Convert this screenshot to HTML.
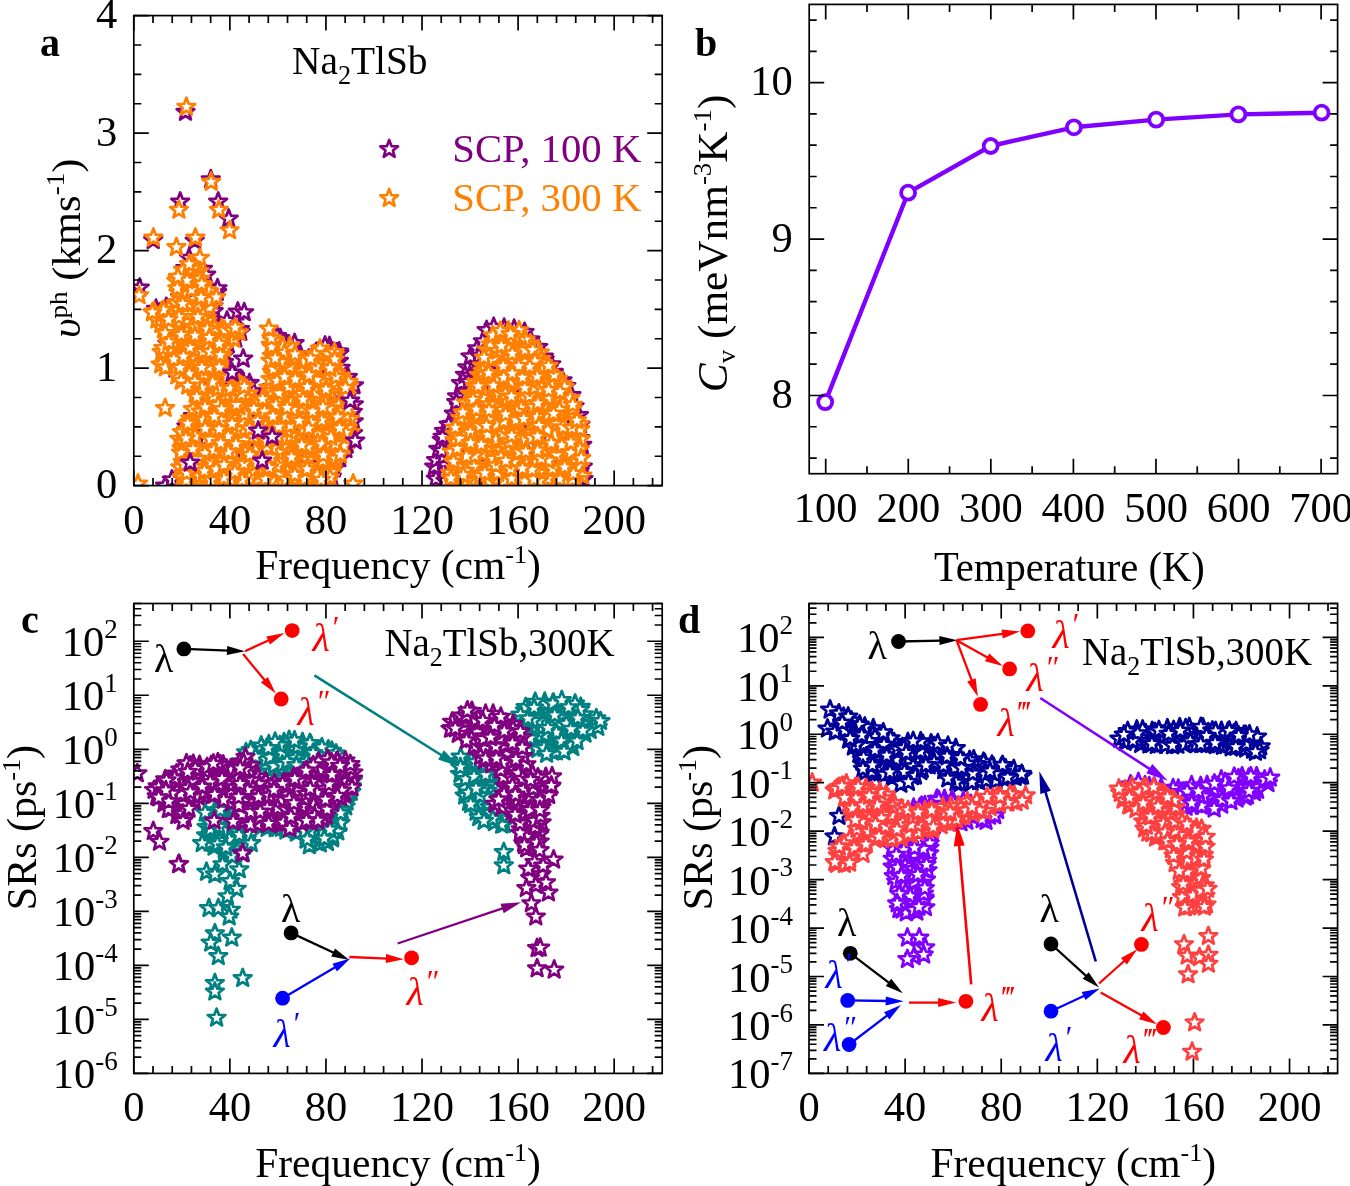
<!DOCTYPE html><html><head><meta charset="utf-8"><style>html,body{margin:0;padding:0;background:#fff;overflow:hidden}svg{display:block;will-change:transform}</style></head><body><svg width="1350" height="1186" viewBox="0 0 1350 1186" font-family='"Liberation Serif", serif'>
<defs><path id="st" d="M0.00,-9.30 L2.30,-3.16 L8.84,-2.87 L3.71,1.21 L5.47,7.52 L0.00,3.91 L-5.47,7.52 L-3.71,1.21 L-8.84,-2.87 L-2.30,-3.16Z"/>
<clipPath id="ca"><rect x="133.8" y="15.6" width="528.4000000000001" height="470.0"/></clipPath>
<clipPath id="cb"><rect x="809.2" y="4.4" width="528.3999999999999" height="469.3"/></clipPath>
<clipPath id="cc"><rect x="133.8" y="603.5" width="528.4000000000001" height="469.9000000000001"/></clipPath>
<clipPath id="cd"><rect x="809.0" y="603.5" width="528.5999999999999" height="469.9000000000001"/></clipPath>
</defs>
<rect width="1350" height="1186" fill="#fff"/>
<g clip-path="url(#ca)" stroke="#800080" stroke-width="2.7" stroke-linejoin="round" fill="#fff"><use href="#st" x="279.3" y="397.7"/><use href="#st" x="225.1" y="354.5"/><use href="#st" x="293.6" y="393.9"/><use href="#st" x="191.9" y="433.9"/><use href="#st" x="305.6" y="380.9"/><use href="#st" x="255.1" y="477.7"/><use href="#st" x="276.3" y="358.5"/><use href="#st" x="283.6" y="388.4"/><use href="#st" x="272.4" y="411.7"/><use href="#st" x="322.1" y="464.3"/><use href="#st" x="198.1" y="292.9"/><use href="#st" x="315.5" y="367.1"/><use href="#st" x="320.3" y="400.0"/><use href="#st" x="203.6" y="464.9"/><use href="#st" x="335.9" y="448.0"/><use href="#st" x="176.0" y="324.6"/><use href="#st" x="307.7" y="434.7"/><use href="#st" x="277.2" y="358.3"/><use href="#st" x="235.8" y="462.5"/><use href="#st" x="165.0" y="355.0"/><use href="#st" x="262.6" y="435.4"/><use href="#st" x="314.5" y="474.0"/><use href="#st" x="163.0" y="319.7"/><use href="#st" x="253.0" y="428.7"/><use href="#st" x="269.7" y="455.3"/><use href="#st" x="221.8" y="426.7"/><use href="#st" x="276.8" y="375.4"/><use href="#st" x="235.3" y="397.8"/><use href="#st" x="338.9" y="361.0"/><use href="#st" x="314.2" y="387.6"/><use href="#st" x="287.3" y="408.1"/><use href="#st" x="292.8" y="379.6"/><use href="#st" x="221.1" y="458.4"/><use href="#st" x="183.7" y="432.4"/><use href="#st" x="239.9" y="329.3"/><use href="#st" x="278.7" y="420.0"/><use href="#st" x="319.7" y="361.4"/><use href="#st" x="165.2" y="318.8"/><use href="#st" x="264.7" y="477.1"/><use href="#st" x="209.3" y="287.0"/><use href="#st" x="156.0" y="308.9"/><use href="#st" x="274.8" y="477.3"/><use href="#st" x="353.7" y="421.5"/><use href="#st" x="170.5" y="336.0"/><use href="#st" x="196.2" y="409.7"/><use href="#st" x="175.0" y="368.8"/><use href="#st" x="230.8" y="381.6"/><use href="#st" x="241.5" y="476.3"/><use href="#st" x="185.6" y="367.8"/><use href="#st" x="165.8" y="357.8"/><use href="#st" x="314.7" y="380.8"/><use href="#st" x="329.5" y="346.3"/><use href="#st" x="227.3" y="401.8"/><use href="#st" x="302.8" y="362.0"/><use href="#st" x="339.1" y="351.6"/><use href="#st" x="252.9" y="410.7"/><use href="#st" x="228.9" y="449.9"/><use href="#st" x="210.1" y="318.3"/><use href="#st" x="233.1" y="412.0"/><use href="#st" x="191.1" y="364.9"/><use href="#st" x="215.9" y="466.9"/><use href="#st" x="229.3" y="331.3"/><use href="#st" x="218.6" y="359.5"/><use href="#st" x="325.1" y="420.2"/><use href="#st" x="193.0" y="416.2"/><use href="#st" x="343.6" y="415.3"/><use href="#st" x="166.3" y="307.1"/><use href="#st" x="179.2" y="316.7"/><use href="#st" x="177.1" y="331.2"/><use href="#st" x="186.5" y="426.5"/><use href="#st" x="186.7" y="355.8"/><use href="#st" x="192.9" y="315.7"/><use href="#st" x="284.8" y="447.3"/><use href="#st" x="312.1" y="475.9"/><use href="#st" x="193.1" y="372.5"/><use href="#st" x="198.0" y="382.7"/><use href="#st" x="291.1" y="356.7"/><use href="#st" x="188.8" y="437.8"/><use href="#st" x="322.3" y="453.4"/><use href="#st" x="204.6" y="428.5"/><use href="#st" x="209.8" y="470.1"/><use href="#st" x="332.5" y="399.2"/><use href="#st" x="208.5" y="429.2"/><use href="#st" x="282.8" y="377.5"/><use href="#st" x="276.7" y="389.2"/><use href="#st" x="344.5" y="434.2"/><use href="#st" x="300.1" y="428.8"/><use href="#st" x="210.1" y="350.7"/><use href="#st" x="297.8" y="439.2"/><use href="#st" x="160.1" y="312.4"/><use href="#st" x="183.6" y="276.4"/><use href="#st" x="229.0" y="374.0"/><use href="#st" x="185.3" y="268.3"/><use href="#st" x="281.6" y="430.6"/><use href="#st" x="315.9" y="461.4"/><use href="#st" x="249.5" y="383.2"/><use href="#st" x="291.8" y="409.1"/><use href="#st" x="204.6" y="276.0"/><use href="#st" x="192.4" y="475.5"/><use href="#st" x="315.3" y="455.6"/><use href="#st" x="285.5" y="458.6"/><use href="#st" x="298.3" y="354.4"/><use href="#st" x="339.9" y="385.5"/><use href="#st" x="311.6" y="392.1"/><use href="#st" x="262.4" y="420.6"/><use href="#st" x="210.0" y="475.4"/><use href="#st" x="210.2" y="287.9"/><use href="#st" x="192.1" y="344.1"/><use href="#st" x="183.8" y="443.0"/><use href="#st" x="197.1" y="387.0"/><use href="#st" x="347.9" y="377.1"/><use href="#st" x="302.8" y="435.2"/><use href="#st" x="242.8" y="417.2"/><use href="#st" x="260.7" y="467.0"/><use href="#st" x="223.9" y="473.8"/><use href="#st" x="189.9" y="375.4"/><use href="#st" x="219.4" y="339.5"/><use href="#st" x="272.4" y="443.5"/><use href="#st" x="195.6" y="273.8"/><use href="#st" x="329.6" y="361.8"/><use href="#st" x="334.5" y="459.5"/><use href="#st" x="280.3" y="338.3"/><use href="#st" x="261.1" y="400.3"/><use href="#st" x="277.0" y="336.1"/><use href="#st" x="340.6" y="368.0"/><use href="#st" x="238.6" y="402.8"/><use href="#st" x="205.6" y="450.3"/><use href="#st" x="193.2" y="448.1"/><use href="#st" x="218.3" y="386.2"/><use href="#st" x="323.7" y="442.3"/><use href="#st" x="230.2" y="431.0"/><use href="#st" x="270.0" y="394.2"/><use href="#st" x="197.9" y="408.8"/><use href="#st" x="234.1" y="327.0"/><use href="#st" x="182.5" y="326.0"/><use href="#st" x="260.2" y="460.1"/><use href="#st" x="195.5" y="426.0"/><use href="#st" x="283.3" y="424.3"/><use href="#st" x="288.5" y="434.1"/><use href="#st" x="247.5" y="408.0"/><use href="#st" x="185.3" y="377.1"/><use href="#st" x="212.3" y="319.6"/><use href="#st" x="167.4" y="343.6"/><use href="#st" x="321.4" y="434.1"/><use href="#st" x="219.5" y="404.0"/><use href="#st" x="300.2" y="469.0"/><use href="#st" x="343.5" y="381.7"/><use href="#st" x="200.2" y="306.5"/><use href="#st" x="279.0" y="472.2"/><use href="#st" x="250.3" y="436.2"/><use href="#st" x="174.1" y="364.1"/><use href="#st" x="234.0" y="384.4"/><use href="#st" x="223.3" y="416.1"/><use href="#st" x="203.6" y="457.5"/><use href="#st" x="300.3" y="354.7"/><use href="#st" x="286.5" y="469.2"/><use href="#st" x="255.8" y="441.1"/><use href="#st" x="192.7" y="383.6"/><use href="#st" x="218.4" y="355.5"/><use href="#st" x="339.4" y="353.6"/><use href="#st" x="200.3" y="470.2"/><use href="#st" x="270.4" y="398.0"/><use href="#st" x="181.6" y="287.9"/><use href="#st" x="187.3" y="315.3"/><use href="#st" x="189.9" y="322.5"/><use href="#st" x="306.2" y="452.9"/><use href="#st" x="330.3" y="376.3"/><use href="#st" x="257.7" y="416.9"/><use href="#st" x="292.8" y="478.0"/><use href="#st" x="227.2" y="455.1"/><use href="#st" x="295.7" y="407.8"/><use href="#st" x="210.8" y="303.8"/><use href="#st" x="203.6" y="401.9"/><use href="#st" x="187.3" y="282.8"/><use href="#st" x="275.1" y="363.7"/><use href="#st" x="322.5" y="356.7"/><use href="#st" x="237.4" y="462.8"/><use href="#st" x="277.0" y="436.9"/><use href="#st" x="205.3" y="330.6"/><use href="#st" x="309.0" y="401.2"/><use href="#st" x="284.9" y="368.8"/><use href="#st" x="234.9" y="375.9"/><use href="#st" x="258.4" y="397.6"/><use href="#st" x="230.8" y="373.6"/><use href="#st" x="353.0" y="433.3"/><use href="#st" x="242.6" y="393.6"/><use href="#st" x="224.1" y="362.3"/><use href="#st" x="323.4" y="405.8"/><use href="#st" x="300.3" y="412.2"/><use href="#st" x="296.5" y="454.8"/><use href="#st" x="259.8" y="429.0"/><use href="#st" x="213.4" y="306.2"/><use href="#st" x="184.6" y="432.2"/><use href="#st" x="185.0" y="301.6"/><use href="#st" x="217.2" y="292.2"/><use href="#st" x="314.6" y="358.4"/><use href="#st" x="251.1" y="471.7"/><use href="#st" x="282.6" y="413.6"/><use href="#st" x="184.1" y="464.5"/><use href="#st" x="197.1" y="460.6"/><use href="#st" x="304.6" y="388.0"/><use href="#st" x="333.5" y="415.2"/><use href="#st" x="185.1" y="458.1"/><use href="#st" x="183.1" y="362.9"/><use href="#st" x="206.6" y="338.3"/><use href="#st" x="217.9" y="461.6"/><use href="#st" x="188.0" y="268.4"/><use href="#st" x="238.3" y="439.6"/><use href="#st" x="333.2" y="461.5"/><use href="#st" x="202.5" y="422.0"/><use href="#st" x="220.9" y="439.3"/><use href="#st" x="303.3" y="443.2"/><use href="#st" x="185.8" y="346.5"/><use href="#st" x="294.6" y="343.3"/><use href="#st" x="237.5" y="433.2"/><use href="#st" x="323.7" y="389.6"/><use href="#st" x="308.2" y="445.9"/><use href="#st" x="214.4" y="360.5"/><use href="#st" x="200.6" y="440.3"/><use href="#st" x="213.5" y="335.1"/><use href="#st" x="347.2" y="444.8"/><use href="#st" x="276.3" y="459.0"/><use href="#st" x="350.2" y="393.5"/><use href="#st" x="205.9" y="360.0"/><use href="#st" x="283.1" y="436.9"/><use href="#st" x="179.0" y="370.4"/><use href="#st" x="225.7" y="423.5"/><use href="#st" x="213.7" y="311.3"/><use href="#st" x="298.1" y="394.8"/><use href="#st" x="235.7" y="460.2"/><use href="#st" x="182.8" y="336.3"/><use href="#st" x="267.0" y="471.1"/><use href="#st" x="325.1" y="449.9"/><use href="#st" x="339.2" y="425.8"/><use href="#st" x="240.7" y="332.1"/><use href="#st" x="167.3" y="363.2"/><use href="#st" x="172.6" y="348.5"/><use href="#st" x="242.4" y="380.5"/><use href="#st" x="303.9" y="475.5"/><use href="#st" x="202.9" y="269.0"/><use href="#st" x="175.2" y="304.8"/><use href="#st" x="178.9" y="307.5"/><use href="#st" x="304.9" y="421.0"/><use href="#st" x="203.2" y="371.9"/><use href="#st" x="318.8" y="391.7"/><use href="#st" x="319.8" y="440.3"/><use href="#st" x="298.5" y="389.9"/><use href="#st" x="299.4" y="424.9"/><use href="#st" x="219.1" y="327.5"/><use href="#st" x="240.1" y="417.4"/><use href="#st" x="182.3" y="278.7"/><use href="#st" x="345.9" y="449.3"/><use href="#st" x="265.1" y="450.3"/><use href="#st" x="337.5" y="373.2"/><use href="#st" x="194.5" y="283.6"/><use href="#st" x="274.6" y="461.3"/><use href="#st" x="251.9" y="392.4"/><use href="#st" x="259.3" y="418.0"/><use href="#st" x="288.9" y="348.4"/><use href="#st" x="216.1" y="418.3"/><use href="#st" x="301.0" y="475.1"/><use href="#st" x="313.9" y="354.1"/><use href="#st" x="284.0" y="343.9"/><use href="#st" x="246.8" y="418.0"/><use href="#st" x="353.8" y="404.5"/><use href="#st" x="228.3" y="388.0"/><use href="#st" x="205.7" y="438.7"/><use href="#st" x="251.5" y="446.8"/><use href="#st" x="225.9" y="395.2"/><use href="#st" x="349.4" y="417.3"/><use href="#st" x="331.7" y="476.7"/><use href="#st" x="220.3" y="478.1"/><use href="#st" x="275.0" y="403.3"/><use href="#st" x="210.7" y="342.3"/><use href="#st" x="354.0" y="385.5"/><use href="#st" x="299.2" y="371.4"/><use href="#st" x="235.8" y="338.8"/><use href="#st" x="332.3" y="437.8"/><use href="#st" x="288.8" y="445.9"/><use href="#st" x="196.0" y="311.6"/><use href="#st" x="194.7" y="337.7"/><use href="#st" x="220.6" y="377.7"/><use href="#st" x="280.7" y="344.8"/><use href="#st" x="275.8" y="345.2"/><use href="#st" x="352.9" y="411.9"/><use href="#st" x="226.1" y="445.5"/><use href="#st" x="251.4" y="469.0"/><use href="#st" x="226.1" y="326.2"/><use href="#st" x="306.6" y="371.0"/><use href="#st" x="178.2" y="302.7"/><use href="#st" x="250.2" y="457.8"/><use href="#st" x="232.9" y="477.3"/><use href="#st" x="204.2" y="392.9"/><use href="#st" x="202.9" y="476.3"/><use href="#st" x="204.8" y="343.3"/><use href="#st" x="344.1" y="391.2"/><use href="#st" x="339.1" y="391.5"/><use href="#st" x="309.0" y="358.8"/><use href="#st" x="217.0" y="373.9"/><use href="#st" x="202.7" y="378.7"/><use href="#st" x="180.2" y="297.3"/><use href="#st" x="292.1" y="465.3"/><use href="#st" x="334.3" y="468.6"/><use href="#st" x="253.5" y="391.6"/><use href="#st" x="185.2" y="447.0"/><use href="#st" x="335.5" y="434.6"/><use href="#st" x="332.6" y="403.3"/><use href="#st" x="343.3" y="404.0"/><use href="#st" x="272.1" y="387.3"/><use href="#st" x="322.2" y="367.7"/><use href="#st" x="270.1" y="432.6"/><use href="#st" x="261.1" y="397.5"/><use href="#st" x="193.6" y="354.8"/><use href="#st" x="206.7" y="391.1"/><use href="#st" x="320.9" y="414.5"/><use href="#st" x="339.8" y="458.5"/><use href="#st" x="212.9" y="415.2"/><use href="#st" x="210.4" y="373.9"/><use href="#st" x="223.6" y="435.8"/><use href="#st" x="193.4" y="264.8"/><use href="#st" x="326.1" y="476.0"/><use href="#st" x="212.8" y="392.7"/><use href="#st" x="213.7" y="450.5"/><use href="#st" x="244.1" y="447.8"/><use href="#st" x="206.2" y="274.7"/><use href="#st" x="283.7" y="477.0"/><use href="#st" x="186.7" y="457.1"/><use href="#st" x="167.9" y="325.9"/><use href="#st" x="194.1" y="464.9"/><use href="#st" x="227.5" y="342.5"/><use href="#st" x="184.2" y="473.6"/><use href="#st" x="347.4" y="418.1"/><use href="#st" x="322.8" y="476.1"/><use href="#st" x="276.1" y="369.3"/><use href="#st" x="325.0" y="345.7"/><use href="#st" x="324.5" y="379.3"/><use href="#st" x="342.3" y="448.1"/><use href="#st" x="308.9" y="416.4"/><use href="#st" x="282.6" y="469.4"/><use href="#st" x="314.3" y="422.2"/><use href="#st" x="192.7" y="298.6"/><use href="#st" x="193.9" y="289.5"/><use href="#st" x="269.3" y="407.6"/><use href="#st" x="198.5" y="397.1"/><use href="#st" x="461.5" y="430.9"/><use href="#st" x="468.7" y="400.0"/><use href="#st" x="540.2" y="418.6"/><use href="#st" x="502.1" y="480.8"/><use href="#st" x="538.2" y="347.1"/><use href="#st" x="535.9" y="480.7"/><use href="#st" x="534.3" y="467.6"/><use href="#st" x="465.7" y="386.7"/><use href="#st" x="497.6" y="444.7"/><use href="#st" x="493.3" y="461.3"/><use href="#st" x="524.7" y="349.2"/><use href="#st" x="466.1" y="406.3"/><use href="#st" x="535.9" y="417.4"/><use href="#st" x="456.1" y="479.7"/><use href="#st" x="450.8" y="439.6"/><use href="#st" x="580.3" y="457.7"/><use href="#st" x="477.1" y="348.5"/><use href="#st" x="466.8" y="416.0"/><use href="#st" x="439.2" y="474.4"/><use href="#st" x="553.4" y="454.3"/><use href="#st" x="550.7" y="393.6"/><use href="#st" x="476.9" y="417.8"/><use href="#st" x="435.9" y="478.9"/><use href="#st" x="527.9" y="359.3"/><use href="#st" x="550.2" y="381.6"/><use href="#st" x="513.7" y="333.6"/><use href="#st" x="474.3" y="430.1"/><use href="#st" x="524.1" y="479.6"/><use href="#st" x="530.5" y="339.6"/><use href="#st" x="508.9" y="415.8"/><use href="#st" x="539.4" y="424.8"/><use href="#st" x="472.3" y="441.7"/><use href="#st" x="485.8" y="390.9"/><use href="#st" x="580.1" y="438.2"/><use href="#st" x="457.9" y="428.6"/><use href="#st" x="456.8" y="462.0"/><use href="#st" x="557.3" y="475.1"/><use href="#st" x="582.8" y="466.7"/><use href="#st" x="535.8" y="391.8"/><use href="#st" x="483.7" y="452.2"/><use href="#st" x="525.3" y="351.8"/><use href="#st" x="449.8" y="471.1"/><use href="#st" x="453.9" y="413.7"/><use href="#st" x="543.8" y="476.6"/><use href="#st" x="457.1" y="396.5"/><use href="#st" x="459.9" y="443.7"/><use href="#st" x="556.6" y="415.6"/><use href="#st" x="477.7" y="465.9"/><use href="#st" x="467.3" y="367.5"/><use href="#st" x="491.9" y="339.3"/><use href="#st" x="524.7" y="383.8"/><use href="#st" x="583.4" y="479.2"/><use href="#st" x="510.0" y="455.5"/><use href="#st" x="452.6" y="478.7"/><use href="#st" x="535.6" y="378.1"/><use href="#st" x="521.9" y="387.7"/><use href="#st" x="434.3" y="466.8"/><use href="#st" x="548.3" y="428.1"/><use href="#st" x="526.2" y="385.2"/><use href="#st" x="515.3" y="479.4"/><use href="#st" x="546.1" y="479.2"/><use href="#st" x="551.3" y="364.4"/><use href="#st" x="553.7" y="372.0"/><use href="#st" x="582.2" y="445.0"/><use href="#st" x="533.3" y="401.8"/><use href="#st" x="493.7" y="416.1"/><use href="#st" x="498.8" y="430.7"/><use href="#st" x="531.1" y="471.5"/><use href="#st" x="546.9" y="453.6"/><use href="#st" x="516.6" y="472.0"/><use href="#st" x="548.8" y="367.8"/><use href="#st" x="518.5" y="439.4"/><use href="#st" x="494.3" y="360.2"/><use href="#st" x="478.4" y="392.5"/><use href="#st" x="573.6" y="446.3"/><use href="#st" x="436.1" y="460.2"/><use href="#st" x="511.0" y="362.2"/><use href="#st" x="504.1" y="327.9"/><use href="#st" x="534.4" y="432.3"/><use href="#st" x="486.6" y="330.2"/><use href="#st" x="461.4" y="478.9"/><use href="#st" x="496.9" y="427.5"/><use href="#st" x="543.8" y="356.7"/><use href="#st" x="549.0" y="401.7"/><use href="#st" x="519.4" y="426.3"/><use href="#st" x="508.6" y="388.3"/><use href="#st" x="518.3" y="398.1"/><use href="#st" x="549.1" y="438.7"/><use href="#st" x="466.3" y="424.3"/><use href="#st" x="555.5" y="467.4"/><use href="#st" x="478.2" y="364.9"/><use href="#st" x="478.5" y="400.3"/><use href="#st" x="446.2" y="434.5"/><use href="#st" x="505.7" y="418.8"/><use href="#st" x="483.6" y="408.2"/><use href="#st" x="485.9" y="406.1"/><use href="#st" x="449.4" y="461.4"/><use href="#st" x="496.6" y="481.1"/><use href="#st" x="526.5" y="418.0"/><use href="#st" x="560.4" y="409.4"/><use href="#st" x="515.6" y="465.6"/><use href="#st" x="459.0" y="406.2"/><use href="#st" x="443.9" y="431.1"/><use href="#st" x="461.0" y="383.2"/><use href="#st" x="571.0" y="417.4"/><use href="#st" x="566.3" y="386.1"/><use href="#st" x="571.4" y="395.2"/><use href="#st" x="481.2" y="479.0"/><use href="#st" x="501.9" y="457.3"/><use href="#st" x="521.5" y="369.1"/><use href="#st" x="460.6" y="463.4"/><use href="#st" x="506.1" y="443.4"/><use href="#st" x="458.7" y="413.1"/><use href="#st" x="514.1" y="328.9"/><use href="#st" x="539.2" y="437.6"/><use href="#st" x="545.5" y="478.8"/><use href="#st" x="550.8" y="392.8"/><use href="#st" x="510.7" y="374.0"/><use href="#st" x="557.5" y="430.2"/><use href="#st" x="465.0" y="375.0"/><use href="#st" x="478.2" y="456.6"/><use href="#st" x="535.1" y="367.1"/><use href="#st" x="488.7" y="347.2"/><use href="#st" x="537.9" y="453.2"/><use href="#st" x="565.9" y="434.6"/><use href="#st" x="445.6" y="465.1"/><use href="#st" x="466.2" y="479.2"/><use href="#st" x="453.4" y="447.9"/><use href="#st" x="441.8" y="440.1"/><use href="#st" x="521.9" y="338.6"/><use href="#st" x="443.7" y="456.6"/><use href="#st" x="548.9" y="378.8"/><use href="#st" x="496.8" y="389.3"/><use href="#st" x="578.9" y="415.2"/><use href="#st" x="480.2" y="432.4"/><use href="#st" x="504.9" y="430.9"/><use href="#st" x="566.1" y="448.0"/><use href="#st" x="563.1" y="444.4"/><use href="#st" x="506.0" y="361.0"/><use href="#st" x="453.4" y="469.0"/><use href="#st" x="524.6" y="332.1"/><use href="#st" x="522.6" y="456.9"/><use href="#st" x="498.3" y="341.0"/><use href="#st" x="529.1" y="465.6"/><use href="#st" x="567.3" y="457.2"/><use href="#st" x="485.4" y="352.7"/><use href="#st" x="445.4" y="480.9"/><use href="#st" x="517.3" y="378.8"/><use href="#st" x="579.0" y="469.6"/><use href="#st" x="482.9" y="341.4"/><use href="#st" x="486.9" y="481.0"/><use href="#st" x="521.4" y="405.1"/><use href="#st" x="573.4" y="478.9"/><use href="#st" x="451.8" y="424.0"/><use href="#st" x="497.3" y="372.1"/><use href="#st" x="558.9" y="479.0"/><use href="#st" x="536.4" y="456.2"/><use href="#st" x="469.7" y="375.7"/><use href="#st" x="568.2" y="418.1"/><use href="#st" x="456.8" y="426.0"/><use href="#st" x="562.6" y="380.4"/><use href="#st" x="471.4" y="479.4"/><use href="#st" x="470.4" y="356.6"/><use href="#st" x="501.5" y="403.8"/><use href="#st" x="567.8" y="480.3"/><use href="#st" x="482.1" y="415.7"/><use href="#st" x="512.9" y="342.7"/><use href="#st" x="438.3" y="449.1"/><use href="#st" x="456.3" y="402.3"/><use href="#st" x="474.0" y="380.1"/><use href="#st" x="535.3" y="361.7"/><use href="#st" x="516.3" y="453.3"/><use href="#st" x="552.7" y="450.3"/><use href="#st" x="487.1" y="463.3"/><use href="#st" x="487.2" y="370.8"/><use href="#st" x="566.7" y="406.0"/><use href="#st" x="494.8" y="469.7"/><use href="#st" x="501.7" y="376.3"/><use href="#st" x="556.4" y="455.2"/><use href="#st" x="496.6" y="355.5"/><use href="#st" x="508.4" y="449.3"/><use href="#st" x="493.7" y="327.0"/><use href="#st" x="510.2" y="414.3"/><use href="#st" x="561.3" y="384.3"/><use href="#st" x="493.8" y="380.2"/><use href="#st" x="503.1" y="469.0"/><use href="#st" x="468.7" y="382.0"/><use href="#st" x="478.9" y="355.9"/><use href="#st" x="489.2" y="438.2"/><use href="#st" x="505.9" y="346.1"/><use href="#st" x="494.6" y="345.5"/><use href="#st" x="534.0" y="408.5"/><use href="#st" x="494.5" y="395.1"/><use href="#st" x="485.8" y="473.5"/><use href="#st" x="579.6" y="471.3"/><use href="#st" x="442.6" y="436.9"/><use href="#st" x="502.3" y="470.8"/><use href="#st" x="487.8" y="364.5"/><use href="#st" x="466.2" y="453.7"/><use href="#st" x="527.9" y="436.8"/><use href="#st" x="467.2" y="446.8"/><use href="#st" x="479.0" y="421.0"/><use href="#st" x="569.1" y="441.8"/><use href="#st" x="490.2" y="423.0"/><use href="#st" x="483.5" y="375.8"/><use href="#st" x="513.1" y="405.6"/><use href="#st" x="441.8" y="450.8"/><use href="#st" x="527.4" y="393.6"/><use href="#st" x="576.6" y="425.5"/><use href="#st" x="514.1" y="435.3"/><use href="#st" x="506.0" y="473.9"/><use href="#st" x="548.1" y="421.2"/><use href="#st" x="505.8" y="358.1"/><use href="#st" x="506.6" y="332.5"/><use href="#st" x="564.9" y="470.9"/><use href="#st" x="526.8" y="451.5"/><use href="#st" x="527.6" y="459.1"/><use href="#st" x="544.7" y="359.4"/><use href="#st" x="580.5" y="424.7"/><use href="#st" x="477.4" y="450.4"/><use href="#st" x="493.2" y="452.6"/><use href="#st" x="515.3" y="356.0"/><use href="#st" x="503.9" y="398.9"/><use href="#st" x="541.4" y="396.5"/><use href="#st" x="482.7" y="394.9"/><use href="#st" x="540.2" y="402.7"/><use href="#st" x="531.0" y="425.6"/><use href="#st" x="477.8" y="438.2"/><use href="#st" x="565.8" y="425.5"/><use href="#st" x="448.7" y="424.7"/><use href="#st" x="576.0" y="431.0"/><use href="#st" x="528.9" y="371.5"/><use href="#st" x="522.9" y="433.3"/><use href="#st" x="574.6" y="406.4"/><use href="#st" x="559.6" y="419.0"/><use href="#st" x="570.1" y="472.0"/><use href="#st" x="577.3" y="456.5"/><use href="#st" x="485.3" y="375.9"/><use href="#st" x="568.1" y="401.7"/><use href="#st" x="542.9" y="469.6"/><use href="#st" x="185.5" y="112.0"/><use href="#st" x="210.8" y="179.4"/><use href="#st" x="180.2" y="201.7"/><use href="#st" x="218.2" y="201.7"/><use href="#st" x="228.7" y="218.8"/><use href="#st" x="153.2" y="240.3"/><use href="#st" x="194.7" y="240.8"/><use href="#st" x="189.1" y="258.0"/><use href="#st" x="193.5" y="280.8"/><use href="#st" x="217.5" y="288.4"/><use href="#st" x="139.7" y="287.8"/><use href="#st" x="237.8" y="311.8"/><use href="#st" x="244.2" y="312.4"/><use href="#st" x="227.0" y="320.7"/><use href="#st" x="207.4" y="315.6"/><use href="#st" x="163.7" y="318.1"/><use href="#st" x="165.2" y="485.8"/><use href="#st" x="171.9" y="479.8"/></g>
<g clip-path="url(#ca)" stroke="#FF8000" stroke-width="2.7" stroke-linejoin="round" fill="#fff"><use href="#st" x="326.3" y="378.3"/><use href="#st" x="201.9" y="466.5"/><use href="#st" x="331.0" y="362.0"/><use href="#st" x="177.3" y="323.4"/><use href="#st" x="228.3" y="428.3"/><use href="#st" x="268.3" y="387.7"/><use href="#st" x="182.0" y="363.3"/><use href="#st" x="233.8" y="339.0"/><use href="#st" x="318.4" y="397.9"/><use href="#st" x="278.3" y="480.7"/><use href="#st" x="273.5" y="405.3"/><use href="#st" x="244.1" y="440.5"/><use href="#st" x="279.3" y="373.9"/><use href="#st" x="201.0" y="422.1"/><use href="#st" x="236.5" y="466.9"/><use href="#st" x="316.2" y="362.6"/><use href="#st" x="233.9" y="406.4"/><use href="#st" x="178.4" y="292.6"/><use href="#st" x="183.7" y="479.2"/><use href="#st" x="293.4" y="451.1"/><use href="#st" x="333.0" y="421.0"/><use href="#st" x="188.1" y="448.3"/><use href="#st" x="325.7" y="478.5"/><use href="#st" x="204.6" y="290.1"/><use href="#st" x="331.5" y="462.8"/><use href="#st" x="300.9" y="367.4"/><use href="#st" x="322.7" y="460.6"/><use href="#st" x="229.4" y="461.2"/><use href="#st" x="205.5" y="480.1"/><use href="#st" x="195.7" y="356.5"/><use href="#st" x="185.0" y="361.2"/><use href="#st" x="270.4" y="403.3"/><use href="#st" x="267.2" y="421.3"/><use href="#st" x="199.3" y="271.2"/><use href="#st" x="319.8" y="381.8"/><use href="#st" x="282.3" y="447.0"/><use href="#st" x="163.5" y="329.4"/><use href="#st" x="336.8" y="432.8"/><use href="#st" x="316.5" y="478.4"/><use href="#st" x="334.6" y="462.6"/><use href="#st" x="191.7" y="454.9"/><use href="#st" x="320.1" y="445.1"/><use href="#st" x="295.5" y="441.1"/><use href="#st" x="160.6" y="364.6"/><use href="#st" x="187.0" y="332.8"/><use href="#st" x="316.5" y="392.9"/><use href="#st" x="334.8" y="461.1"/><use href="#st" x="317.9" y="434.5"/><use href="#st" x="172.6" y="352.0"/><use href="#st" x="273.2" y="374.6"/><use href="#st" x="261.4" y="472.5"/><use href="#st" x="237.4" y="417.0"/><use href="#st" x="218.6" y="437.1"/><use href="#st" x="320.4" y="354.5"/><use href="#st" x="212.0" y="379.2"/><use href="#st" x="309.5" y="443.8"/><use href="#st" x="333.8" y="367.0"/><use href="#st" x="301.0" y="434.1"/><use href="#st" x="299.6" y="417.1"/><use href="#st" x="272.2" y="391.1"/><use href="#st" x="208.6" y="302.7"/><use href="#st" x="184.7" y="294.1"/><use href="#st" x="267.0" y="478.0"/><use href="#st" x="323.5" y="422.8"/><use href="#st" x="160.8" y="324.0"/><use href="#st" x="261.0" y="439.8"/><use href="#st" x="205.8" y="404.6"/><use href="#st" x="272.3" y="340.3"/><use href="#st" x="211.6" y="326.0"/><use href="#st" x="231.7" y="417.7"/><use href="#st" x="170.6" y="317.2"/><use href="#st" x="168.4" y="356.4"/><use href="#st" x="298.0" y="479.7"/><use href="#st" x="240.0" y="473.5"/><use href="#st" x="195.5" y="358.9"/><use href="#st" x="194.2" y="310.7"/><use href="#st" x="329.0" y="413.1"/><use href="#st" x="316.6" y="379.8"/><use href="#st" x="221.7" y="371.6"/><use href="#st" x="274.0" y="479.8"/><use href="#st" x="218.5" y="363.4"/><use href="#st" x="350.8" y="431.9"/><use href="#st" x="232.2" y="479.6"/><use href="#st" x="289.8" y="366.8"/><use href="#st" x="289.5" y="390.1"/><use href="#st" x="238.9" y="332.4"/><use href="#st" x="244.3" y="429.5"/><use href="#st" x="295.8" y="414.1"/><use href="#st" x="277.8" y="382.5"/><use href="#st" x="175.7" y="303.1"/><use href="#st" x="182.7" y="462.1"/><use href="#st" x="222.3" y="400.5"/><use href="#st" x="291.6" y="462.1"/><use href="#st" x="302.3" y="407.6"/><use href="#st" x="168.9" y="308.8"/><use href="#st" x="347.7" y="428.0"/><use href="#st" x="185.9" y="320.2"/><use href="#st" x="232.4" y="451.9"/><use href="#st" x="156.9" y="319.7"/><use href="#st" x="189.8" y="461.5"/><use href="#st" x="198.8" y="341.7"/><use href="#st" x="195.4" y="367.2"/><use href="#st" x="298.6" y="466.7"/><use href="#st" x="311.1" y="451.9"/><use href="#st" x="225.1" y="337.6"/><use href="#st" x="169.1" y="329.0"/><use href="#st" x="321.8" y="420.4"/><use href="#st" x="249.1" y="477.5"/><use href="#st" x="340.9" y="375.7"/><use href="#st" x="237.0" y="445.8"/><use href="#st" x="258.3" y="478.8"/><use href="#st" x="198.6" y="321.9"/><use href="#st" x="193.8" y="374.6"/><use href="#st" x="165.1" y="333.3"/><use href="#st" x="240.9" y="421.7"/><use href="#st" x="226.2" y="469.1"/><use href="#st" x="180.2" y="344.2"/><use href="#st" x="280.7" y="460.1"/><use href="#st" x="196.4" y="478.7"/><use href="#st" x="195.0" y="349.9"/><use href="#st" x="227.2" y="376.7"/><use href="#st" x="334.9" y="386.2"/><use href="#st" x="161.8" y="311.3"/><use href="#st" x="293.3" y="455.4"/><use href="#st" x="188.3" y="313.5"/><use href="#st" x="247.5" y="451.2"/><use href="#st" x="338.7" y="405.2"/><use href="#st" x="341.6" y="442.1"/><use href="#st" x="293.2" y="359.9"/><use href="#st" x="287.5" y="472.1"/><use href="#st" x="334.6" y="354.8"/><use href="#st" x="161.1" y="314.5"/><use href="#st" x="230.4" y="479.5"/><use href="#st" x="317.6" y="443.0"/><use href="#st" x="299.0" y="382.1"/><use href="#st" x="255.6" y="451.0"/><use href="#st" x="199.7" y="475.9"/><use href="#st" x="221.8" y="328.3"/><use href="#st" x="186.2" y="429.9"/><use href="#st" x="213.3" y="327.3"/><use href="#st" x="189.4" y="373.9"/><use href="#st" x="350.0" y="419.0"/><use href="#st" x="179.2" y="438.9"/><use href="#st" x="250.8" y="471.8"/><use href="#st" x="254.9" y="435.8"/><use href="#st" x="206.9" y="365.8"/><use href="#st" x="281.3" y="400.8"/><use href="#st" x="196.9" y="334.0"/><use href="#st" x="311.3" y="478.6"/><use href="#st" x="180.2" y="467.4"/><use href="#st" x="214.8" y="401.2"/><use href="#st" x="195.1" y="394.0"/><use href="#st" x="178.5" y="310.2"/><use href="#st" x="335.8" y="372.7"/><use href="#st" x="278.9" y="393.2"/><use href="#st" x="214.7" y="328.2"/><use href="#st" x="244.5" y="414.3"/><use href="#st" x="301.0" y="362.3"/><use href="#st" x="335.8" y="458.5"/><use href="#st" x="213.2" y="479.7"/><use href="#st" x="271.8" y="371.7"/><use href="#st" x="161.6" y="352.1"/><use href="#st" x="190.3" y="418.6"/><use href="#st" x="265.5" y="416.1"/><use href="#st" x="347.7" y="440.5"/><use href="#st" x="192.9" y="409.3"/><use href="#st" x="194.5" y="273.9"/><use href="#st" x="181.6" y="448.4"/><use href="#st" x="320.0" y="348.8"/><use href="#st" x="345.6" y="392.2"/><use href="#st" x="311.1" y="368.9"/><use href="#st" x="208.6" y="291.7"/><use href="#st" x="233.2" y="404.7"/><use href="#st" x="214.9" y="432.8"/><use href="#st" x="186.7" y="303.8"/><use href="#st" x="348.8" y="385.8"/><use href="#st" x="245.3" y="453.3"/><use href="#st" x="208.8" y="308.1"/><use href="#st" x="277.2" y="440.3"/><use href="#st" x="302.9" y="362.3"/><use href="#st" x="235.7" y="396.5"/><use href="#st" x="203.5" y="285.4"/><use href="#st" x="182.0" y="477.4"/><use href="#st" x="314.5" y="354.2"/><use href="#st" x="254.7" y="401.1"/><use href="#st" x="244.2" y="463.9"/><use href="#st" x="272.6" y="361.8"/><use href="#st" x="323.0" y="363.5"/><use href="#st" x="278.1" y="452.6"/><use href="#st" x="188.1" y="303.6"/><use href="#st" x="200.8" y="411.6"/><use href="#st" x="286.6" y="438.8"/><use href="#st" x="284.5" y="358.6"/><use href="#st" x="272.5" y="448.1"/><use href="#st" x="175.9" y="367.9"/><use href="#st" x="198.6" y="447.5"/><use href="#st" x="280.9" y="474.4"/><use href="#st" x="290.1" y="346.0"/><use href="#st" x="295.4" y="393.4"/><use href="#st" x="181.1" y="452.8"/><use href="#st" x="286.2" y="479.6"/><use href="#st" x="267.3" y="467.0"/><use href="#st" x="214.2" y="365.3"/><use href="#st" x="195.1" y="326.9"/><use href="#st" x="211.4" y="461.9"/><use href="#st" x="260.7" y="455.3"/><use href="#st" x="283.7" y="382.6"/><use href="#st" x="202.9" y="351.7"/><use href="#st" x="177.8" y="278.5"/><use href="#st" x="290.9" y="436.1"/><use href="#st" x="183.1" y="270.0"/><use href="#st" x="348.6" y="382.0"/><use href="#st" x="210.5" y="439.5"/><use href="#st" x="290.9" y="403.3"/><use href="#st" x="322.4" y="475.5"/><use href="#st" x="274.6" y="341.0"/><use href="#st" x="324.7" y="446.6"/><use href="#st" x="328.3" y="354.2"/><use href="#st" x="307.9" y="447.0"/><use href="#st" x="165.4" y="367.5"/><use href="#st" x="309.4" y="419.7"/><use href="#st" x="344.0" y="445.9"/><use href="#st" x="207.2" y="320.9"/><use href="#st" x="303.9" y="428.4"/><use href="#st" x="203.3" y="393.2"/><use href="#st" x="283.0" y="346.3"/><use href="#st" x="198.5" y="305.9"/><use href="#st" x="249.8" y="455.0"/><use href="#st" x="287.0" y="430.4"/><use href="#st" x="179.0" y="317.1"/><use href="#st" x="280.7" y="362.2"/><use href="#st" x="311.1" y="422.8"/><use href="#st" x="277.7" y="436.5"/><use href="#st" x="172.4" y="348.2"/><use href="#st" x="346.7" y="400.1"/><use href="#st" x="236.4" y="429.5"/><use href="#st" x="290.4" y="425.7"/><use href="#st" x="213.4" y="396.2"/><use href="#st" x="334.5" y="352.3"/><use href="#st" x="182.0" y="432.3"/><use href="#st" x="330.3" y="392.3"/><use href="#st" x="225.6" y="394.7"/><use href="#st" x="277.0" y="465.6"/><use href="#st" x="239.0" y="406.7"/><use href="#st" x="284.6" y="352.9"/><use href="#st" x="205.0" y="407.0"/><use href="#st" x="228.2" y="436.4"/><use href="#st" x="342.7" y="410.5"/><use href="#st" x="324.8" y="394.4"/><use href="#st" x="288.7" y="386.9"/><use href="#st" x="196.3" y="468.3"/><use href="#st" x="312.6" y="411.5"/><use href="#st" x="270.8" y="345.0"/><use href="#st" x="330.9" y="472.0"/><use href="#st" x="218.0" y="388.5"/><use href="#st" x="346.0" y="415.1"/><use href="#st" x="188.3" y="284.6"/><use href="#st" x="285.6" y="416.5"/><use href="#st" x="189.8" y="347.8"/><use href="#st" x="201.9" y="387.8"/><use href="#st" x="308.6" y="428.6"/><use href="#st" x="190.6" y="435.1"/><use href="#st" x="253.8" y="437.0"/><use href="#st" x="296.1" y="357.5"/><use href="#st" x="278.8" y="426.6"/><use href="#st" x="316.1" y="366.5"/><use href="#st" x="210.8" y="480.2"/><use href="#st" x="214.1" y="422.8"/><use href="#st" x="325.3" y="403.4"/><use href="#st" x="346.5" y="395.2"/><use href="#st" x="248.3" y="393.6"/><use href="#st" x="221.5" y="420.4"/><use href="#st" x="306.9" y="399.7"/><use href="#st" x="271.8" y="356.0"/><use href="#st" x="218.2" y="456.7"/><use href="#st" x="345.5" y="388.0"/><use href="#st" x="299.2" y="420.7"/><use href="#st" x="334.8" y="359.4"/><use href="#st" x="222.5" y="355.1"/><use href="#st" x="295.3" y="479.0"/><use href="#st" x="163.2" y="348.1"/><use href="#st" x="186.3" y="480.5"/><use href="#st" x="224.5" y="330.2"/><use href="#st" x="265.3" y="402.4"/><use href="#st" x="204.4" y="471.0"/><use href="#st" x="173.8" y="359.4"/><use href="#st" x="223.8" y="478.3"/><use href="#st" x="219.2" y="429.3"/><use href="#st" x="221.3" y="452.0"/><use href="#st" x="204.9" y="453.3"/><use href="#st" x="216.2" y="469.4"/><use href="#st" x="154.2" y="311.5"/><use href="#st" x="295.0" y="354.4"/><use href="#st" x="292.6" y="478.3"/><use href="#st" x="212.6" y="382.4"/><use href="#st" x="186.7" y="473.0"/><use href="#st" x="249.2" y="478.3"/><use href="#st" x="204.0" y="374.2"/><use href="#st" x="176.8" y="375.5"/><use href="#st" x="293.0" y="409.5"/><use href="#st" x="218.1" y="405.1"/><use href="#st" x="195.2" y="436.6"/><use href="#st" x="270.4" y="379.1"/><use href="#st" x="194.8" y="381.8"/><use href="#st" x="335.4" y="444.3"/><use href="#st" x="224.7" y="348.4"/><use href="#st" x="209.3" y="308.0"/><use href="#st" x="183.4" y="443.0"/><use href="#st" x="203.2" y="315.0"/><use href="#st" x="336.1" y="376.8"/><use href="#st" x="163.5" y="310.1"/><use href="#st" x="181.2" y="381.1"/><use href="#st" x="182.6" y="338.3"/><use href="#st" x="244.6" y="398.0"/><use href="#st" x="207.9" y="343.7"/><use href="#st" x="295.3" y="379.4"/><use href="#st" x="195.0" y="335.6"/><use href="#st" x="220.8" y="340.4"/><use href="#st" x="271.7" y="347.1"/><use href="#st" x="173.1" y="341.9"/><use href="#st" x="184.3" y="464.2"/><use href="#st" x="330.4" y="433.0"/><use href="#st" x="209.2" y="291.4"/><use href="#st" x="198.8" y="285.2"/><use href="#st" x="216.6" y="450.9"/><use href="#st" x="176.3" y="281.0"/><use href="#st" x="242.1" y="480.1"/><use href="#st" x="301.8" y="445.2"/><use href="#st" x="192.6" y="268.5"/><use href="#st" x="180.1" y="367.8"/><use href="#st" x="249.6" y="428.6"/><use href="#st" x="168.5" y="319.6"/><use href="#st" x="317.2" y="475.4"/><use href="#st" x="191.6" y="289.9"/><use href="#st" x="203.3" y="420.1"/><use href="#st" x="230.3" y="388.8"/><use href="#st" x="182.8" y="283.4"/><use href="#st" x="307.7" y="459.8"/><use href="#st" x="330.0" y="477.4"/><use href="#st" x="169.0" y="342.2"/><use href="#st" x="264.5" y="411.4"/><use href="#st" x="302.2" y="393.9"/><use href="#st" x="273.3" y="369.3"/><use href="#st" x="238.6" y="383.0"/><use href="#st" x="196.8" y="397.0"/><use href="#st" x="270.4" y="360.9"/><use href="#st" x="270.7" y="457.2"/><use href="#st" x="307.3" y="386.9"/><use href="#st" x="330.0" y="368.3"/><use href="#st" x="221.6" y="409.3"/><use href="#st" x="207.3" y="329.3"/><use href="#st" x="321.9" y="444.1"/><use href="#st" x="304.6" y="479.3"/><use href="#st" x="236.0" y="444.2"/><use href="#st" x="291.5" y="457.4"/><use href="#st" x="266.8" y="446.9"/><use href="#st" x="257.1" y="462.5"/><use href="#st" x="347.9" y="408.7"/><use href="#st" x="328.9" y="408.5"/><use href="#st" x="271.4" y="338.1"/><use href="#st" x="177.3" y="288.4"/><use href="#st" x="189.8" y="422.2"/><use href="#st" x="265.4" y="479.3"/><use href="#st" x="337.7" y="417.3"/><use href="#st" x="330.8" y="437.2"/><use href="#st" x="232.1" y="423.8"/><use href="#st" x="266.8" y="441.1"/><use href="#st" x="277.0" y="380.8"/><use href="#st" x="197.4" y="459.0"/><use href="#st" x="257.2" y="422.5"/><use href="#st" x="236.4" y="404.8"/><use href="#st" x="192.7" y="449.0"/><use href="#st" x="205.7" y="427.3"/><use href="#st" x="208.8" y="367.5"/><use href="#st" x="210.3" y="352.1"/><use href="#st" x="187.0" y="280.6"/><use href="#st" x="213.9" y="450.3"/><use href="#st" x="200.2" y="278.9"/><use href="#st" x="345.7" y="432.8"/><use href="#st" x="321.2" y="479.9"/><use href="#st" x="185.9" y="438.4"/><use href="#st" x="228.2" y="452.0"/><use href="#st" x="182.7" y="303.9"/><use href="#st" x="303.1" y="399.6"/><use href="#st" x="224.0" y="465.0"/><use href="#st" x="214.4" y="416.6"/><use href="#st" x="205.2" y="428.8"/><use href="#st" x="181.2" y="334.8"/><use href="#st" x="323.5" y="455.2"/><use href="#st" x="294.8" y="474.7"/><use href="#st" x="276.1" y="405.1"/><use href="#st" x="183.5" y="356.5"/><use href="#st" x="197.9" y="317.1"/><use href="#st" x="323.0" y="407.2"/><use href="#st" x="241.1" y="385.3"/><use href="#st" x="201.8" y="367.7"/><use href="#st" x="269.2" y="467.8"/><use href="#st" x="211.0" y="300.3"/><use href="#st" x="287.1" y="407.8"/><use href="#st" x="219.3" y="367.4"/><use href="#st" x="201.1" y="297.7"/><use href="#st" x="220.3" y="355.1"/><use href="#st" x="307.8" y="466.3"/><use href="#st" x="307.1" y="469.2"/><use href="#st" x="275.2" y="358.4"/><use href="#st" x="310.6" y="358.6"/><use href="#st" x="241.4" y="394.3"/><use href="#st" x="325.9" y="389.5"/><use href="#st" x="235.0" y="472.3"/><use href="#st" x="244.3" y="386.8"/><use href="#st" x="187.7" y="385.8"/><use href="#st" x="232.0" y="330.4"/><use href="#st" x="257.6" y="420.9"/><use href="#st" x="340.4" y="454.6"/><use href="#st" x="339.5" y="428.4"/><use href="#st" x="262.6" y="399.0"/><use href="#st" x="261.7" y="430.0"/><use href="#st" x="219.1" y="343.8"/><use href="#st" x="209.4" y="337.8"/><use href="#st" x="187.7" y="423.6"/><use href="#st" x="272.9" y="416.5"/><use href="#st" x="253.8" y="408.8"/><use href="#st" x="309.1" y="375.3"/><use href="#st" x="220.7" y="443.3"/><use href="#st" x="284.5" y="377.0"/><use href="#st" x="496.8" y="402.2"/><use href="#st" x="548.9" y="452.4"/><use href="#st" x="548.8" y="480.7"/><use href="#st" x="487.8" y="465.1"/><use href="#st" x="538.8" y="472.8"/><use href="#st" x="525.8" y="475.8"/><use href="#st" x="556.7" y="475.0"/><use href="#st" x="573.8" y="458.3"/><use href="#st" x="487.3" y="376.2"/><use href="#st" x="492.8" y="345.0"/><use href="#st" x="498.9" y="388.3"/><use href="#st" x="565.8" y="412.4"/><use href="#st" x="542.8" y="449.3"/><use href="#st" x="530.4" y="343.5"/><use href="#st" x="489.4" y="478.6"/><use href="#st" x="455.6" y="479.2"/><use href="#st" x="533.9" y="378.4"/><use href="#st" x="539.8" y="352.6"/><use href="#st" x="566.1" y="464.8"/><use href="#st" x="478.0" y="466.1"/><use href="#st" x="569.9" y="413.5"/><use href="#st" x="529.1" y="432.8"/><use href="#st" x="551.1" y="377.8"/><use href="#st" x="498.9" y="394.2"/><use href="#st" x="480.0" y="375.1"/><use href="#st" x="532.2" y="433.1"/><use href="#st" x="525.0" y="467.2"/><use href="#st" x="555.8" y="449.4"/><use href="#st" x="477.3" y="471.4"/><use href="#st" x="521.7" y="396.5"/><use href="#st" x="499.5" y="337.9"/><use href="#st" x="559.5" y="436.8"/><use href="#st" x="474.9" y="480.3"/><use href="#st" x="554.0" y="380.3"/><use href="#st" x="556.6" y="455.1"/><use href="#st" x="575.3" y="459.7"/><use href="#st" x="489.3" y="450.9"/><use href="#st" x="521.1" y="407.9"/><use href="#st" x="509.6" y="459.4"/><use href="#st" x="567.5" y="450.8"/><use href="#st" x="464.4" y="443.8"/><use href="#st" x="557.3" y="479.1"/><use href="#st" x="565.5" y="480.9"/><use href="#st" x="516.9" y="412.0"/><use href="#st" x="488.2" y="420.0"/><use href="#st" x="528.6" y="459.0"/><use href="#st" x="559.6" y="479.1"/><use href="#st" x="530.1" y="403.6"/><use href="#st" x="541.2" y="359.0"/><use href="#st" x="534.0" y="422.4"/><use href="#st" x="518.3" y="443.9"/><use href="#st" x="493.4" y="406.6"/><use href="#st" x="579.9" y="424.1"/><use href="#st" x="551.9" y="422.9"/><use href="#st" x="510.0" y="358.3"/><use href="#st" x="479.1" y="375.1"/><use href="#st" x="508.5" y="330.7"/><use href="#st" x="507.9" y="438.7"/><use href="#st" x="454.5" y="440.3"/><use href="#st" x="539.2" y="371.1"/><use href="#st" x="473.7" y="466.6"/><use href="#st" x="455.7" y="468.7"/><use href="#st" x="557.9" y="379.0"/><use href="#st" x="529.3" y="396.1"/><use href="#st" x="530.3" y="480.1"/><use href="#st" x="547.6" y="478.7"/><use href="#st" x="554.6" y="435.3"/><use href="#st" x="482.2" y="365.7"/><use href="#st" x="502.5" y="409.8"/><use href="#st" x="482.7" y="371.3"/><use href="#st" x="515.1" y="350.6"/><use href="#st" x="550.8" y="382.5"/><use href="#st" x="481.2" y="433.9"/><use href="#st" x="465.9" y="402.6"/><use href="#st" x="542.2" y="394.1"/><use href="#st" x="525.4" y="362.5"/><use href="#st" x="492.7" y="353.1"/><use href="#st" x="493.2" y="458.9"/><use href="#st" x="534.8" y="387.8"/><use href="#st" x="461.8" y="463.8"/><use href="#st" x="487.2" y="441.5"/><use href="#st" x="554.3" y="375.2"/><use href="#st" x="581.0" y="439.1"/><use href="#st" x="524.9" y="481.3"/><use href="#st" x="482.1" y="453.6"/><use href="#st" x="562.4" y="384.1"/><use href="#st" x="451.7" y="451.8"/><use href="#st" x="460.6" y="426.2"/><use href="#st" x="509.2" y="348.0"/><use href="#st" x="512.3" y="353.6"/><use href="#st" x="579.9" y="466.2"/><use href="#st" x="573.0" y="408.6"/><use href="#st" x="551.1" y="467.0"/><use href="#st" x="492.8" y="359.6"/><use href="#st" x="474.9" y="455.6"/><use href="#st" x="582.3" y="475.7"/><use href="#st" x="473.3" y="415.0"/><use href="#st" x="510.7" y="381.9"/><use href="#st" x="493.5" y="479.9"/><use href="#st" x="467.2" y="480.2"/><use href="#st" x="521.9" y="440.3"/><use href="#st" x="515.7" y="424.2"/><use href="#st" x="484.8" y="395.3"/><use href="#st" x="564.6" y="387.0"/><use href="#st" x="501.4" y="450.3"/><use href="#st" x="520.5" y="382.9"/><use href="#st" x="505.5" y="475.1"/><use href="#st" x="482.4" y="397.7"/><use href="#st" x="507.0" y="399.3"/><use href="#st" x="493.5" y="341.4"/><use href="#st" x="536.3" y="462.2"/><use href="#st" x="525.4" y="339.6"/><use href="#st" x="539.2" y="480.9"/><use href="#st" x="561.9" y="445.1"/><use href="#st" x="454.7" y="433.7"/><use href="#st" x="498.3" y="478.5"/><use href="#st" x="486.7" y="349.7"/><use href="#st" x="570.3" y="398.2"/><use href="#st" x="519.1" y="330.4"/><use href="#st" x="543.2" y="363.2"/><use href="#st" x="552.5" y="468.6"/><use href="#st" x="554.1" y="400.9"/><use href="#st" x="460.0" y="458.3"/><use href="#st" x="548.1" y="398.2"/><use href="#st" x="575.4" y="479.1"/><use href="#st" x="490.7" y="344.4"/><use href="#st" x="495.8" y="440.1"/><use href="#st" x="489.6" y="404.5"/><use href="#st" x="540.9" y="367.1"/><use href="#st" x="451.3" y="473.9"/><use href="#st" x="548.5" y="366.0"/><use href="#st" x="501.7" y="365.0"/><use href="#st" x="522.8" y="351.5"/><use href="#st" x="563.0" y="404.5"/><use href="#st" x="474.3" y="443.9"/><use href="#st" x="503.4" y="433.8"/><use href="#st" x="467.4" y="419.9"/><use href="#st" x="546.4" y="409.1"/><use href="#st" x="570.9" y="452.8"/><use href="#st" x="504.2" y="480.9"/><use href="#st" x="572.2" y="479.7"/><use href="#st" x="453.4" y="461.7"/><use href="#st" x="497.7" y="350.9"/><use href="#st" x="509.1" y="373.8"/><use href="#st" x="533.5" y="407.0"/><use href="#st" x="516.4" y="434.9"/><use href="#st" x="514.7" y="337.0"/><use href="#st" x="524.8" y="388.1"/><use href="#st" x="576.0" y="435.9"/><use href="#st" x="500.2" y="468.3"/><use href="#st" x="513.6" y="397.1"/><use href="#st" x="511.7" y="478.7"/><use href="#st" x="525.1" y="350.1"/><use href="#st" x="487.9" y="481.1"/><use href="#st" x="579.9" y="449.4"/><use href="#st" x="497.7" y="473.2"/><use href="#st" x="469.2" y="428.0"/><use href="#st" x="470.0" y="393.7"/><use href="#st" x="522.7" y="377.5"/><use href="#st" x="466.5" y="456.5"/><use href="#st" x="572.5" y="430.1"/><use href="#st" x="506.8" y="446.8"/><use href="#st" x="457.2" y="448.7"/><use href="#st" x="450.4" y="472.9"/><use href="#st" x="476.2" y="382.1"/><use href="#st" x="548.1" y="414.6"/><use href="#st" x="581.2" y="458.3"/><use href="#st" x="537.0" y="376.5"/><use href="#st" x="474.9" y="396.0"/><use href="#st" x="466.3" y="412.2"/><use href="#st" x="547.8" y="430.5"/><use href="#st" x="536.9" y="416.9"/><use href="#st" x="484.1" y="357.7"/><use href="#st" x="509.2" y="338.0"/><use href="#st" x="480.1" y="443.0"/><use href="#st" x="480.6" y="476.0"/><use href="#st" x="495.6" y="465.5"/><use href="#st" x="573.4" y="473.7"/><use href="#st" x="539.0" y="425.8"/><use href="#st" x="580.3" y="429.3"/><use href="#st" x="557.0" y="423.7"/><use href="#st" x="475.1" y="386.1"/><use href="#st" x="531.7" y="437.9"/><use href="#st" x="560.1" y="392.0"/><use href="#st" x="563.2" y="428.4"/><use href="#st" x="541.7" y="388.4"/><use href="#st" x="500.9" y="457.6"/><use href="#st" x="473.0" y="399.7"/><use href="#st" x="548.4" y="460.6"/><use href="#st" x="513.7" y="461.9"/><use href="#st" x="541.3" y="458.7"/><use href="#st" x="537.5" y="436.4"/><use href="#st" x="532.8" y="350.1"/><use href="#st" x="570.8" y="442.6"/><use href="#st" x="478.1" y="414.6"/><use href="#st" x="498.1" y="379.8"/><use href="#st" x="476.2" y="409.5"/><use href="#st" x="563.1" y="427.4"/><use href="#st" x="493.5" y="385.5"/><use href="#st" x="519.2" y="452.2"/><use href="#st" x="537.5" y="450.6"/><use href="#st" x="548.5" y="390.2"/><use href="#st" x="559.2" y="412.7"/><use href="#st" x="484.8" y="473.1"/><use href="#st" x="466.2" y="434.7"/><use href="#st" x="459.9" y="438.6"/><use href="#st" x="465.0" y="470.9"/><use href="#st" x="534.9" y="361.2"/><use href="#st" x="509.5" y="441.6"/><use href="#st" x="460.3" y="417.9"/><use href="#st" x="502.6" y="418.8"/><use href="#st" x="450.9" y="478.4"/><use href="#st" x="529.7" y="366.8"/><use href="#st" x="510.6" y="469.0"/><use href="#st" x="496.7" y="424.8"/><use href="#st" x="533.8" y="479.4"/><use href="#st" x="539.2" y="404.8"/><use href="#st" x="505.8" y="460.9"/><use href="#st" x="503.9" y="421.5"/><use href="#st" x="559.5" y="409.7"/><use href="#st" x="518.4" y="421.6"/><use href="#st" x="455.3" y="427.7"/><use href="#st" x="515.8" y="420.2"/><use href="#st" x="531.9" y="469.8"/><use href="#st" x="470.3" y="432.6"/><use href="#st" x="511.8" y="435.7"/><use href="#st" x="572.8" y="404.9"/><use href="#st" x="503.7" y="377.8"/><use href="#st" x="518.8" y="366.1"/><use href="#st" x="489.1" y="410.4"/><use href="#st" x="492.8" y="335.4"/><use href="#st" x="501.3" y="346.1"/><use href="#st" x="564.6" y="467.3"/><use href="#st" x="505.4" y="394.0"/><use href="#st" x="551.2" y="443.2"/><use href="#st" x="480.0" y="426.1"/><use href="#st" x="487.9" y="434.8"/><use href="#st" x="488.5" y="373.2"/><use href="#st" x="478.3" y="386.3"/><use href="#st" x="486.4" y="425.9"/><use href="#st" x="503.1" y="366.3"/><use href="#st" x="522.5" y="468.6"/><use href="#st" x="481.2" y="444.8"/><use href="#st" x="572.0" y="428.1"/><use href="#st" x="462.7" y="412.4"/><use href="#st" x="500.4" y="331.0"/><use href="#st" x="523.7" y="418.9"/><use href="#st" x="470.6" y="443.1"/><use href="#st" x="511.4" y="396.5"/><use href="#st" x="525.7" y="451.6"/><use href="#st" x="576.9" y="420.5"/><use href="#st" x="463.4" y="475.2"/><use href="#st" x="512.2" y="373.5"/><use href="#st" x="553.6" y="413.8"/><use href="#st" x="505.6" y="414.4"/><use href="#st" x="510.6" y="334.3"/><use href="#st" x="537.9" y="403.4"/><use href="#st" x="186.4" y="106.9"/><use href="#st" x="211.1" y="182.0"/><use href="#st" x="178.9" y="209.9"/><use href="#st" x="218.8" y="209.9"/><use href="#st" x="229.6" y="230.4"/><use href="#st" x="153.4" y="237.8"/><use href="#st" x="195.4" y="237.8"/><use href="#st" x="176.4" y="247.3"/><use href="#st" x="199.8" y="258.0"/><use href="#st" x="189.1" y="264.3"/><use href="#st" x="178.0" y="277.0"/><use href="#st" x="201.7" y="284.0"/><use href="#st" x="216.3" y="297.3"/><use href="#st" x="139.1" y="295.4"/><use href="#st" x="152.4" y="312.4"/><use href="#st" x="268.8" y="328.8"/><use href="#st" x="235.2" y="327.6"/><use href="#st" x="138.0" y="483.8"/><use href="#st" x="353.2" y="483.8"/><use href="#st" x="165.2" y="408.2"/></g>
<g clip-path="url(#ca)" stroke="#800080" stroke-width="2.7" stroke-linejoin="round" fill="#fff"><use href="#st" x="258.2" y="430.8"/><use href="#st" x="272.2" y="436.8"/><use href="#st" x="190.2" y="462.8"/><use href="#st" x="262.2" y="460.8"/><use href="#st" x="350.2" y="400.8"/><use href="#st" x="355.2" y="440.8"/><use href="#st" x="232.2" y="372.8"/><use href="#st" x="243.2" y="358.8"/></g>
<g clip-path="url(#ca)" stroke="#800080" stroke-width="2.7" stroke-linejoin="round" fill="#fff"><use href="#st" x="389.2" y="149.3"/></g>
<g clip-path="url(#ca)" stroke="#FF8000" stroke-width="2.7" stroke-linejoin="round" fill="#fff"><use href="#st" x="389.2" y="198.3"/></g>
<polyline points="825.2,402.1 908.1,192.7 990.7,146.0 1073.9,127.3 1156.2,119.6 1238.4,114.4 1321.6,112.7" fill="none" stroke="#8000FF" stroke-width="4.4" stroke-linejoin="round"/>
<circle cx="825.2" cy="402.1" r="7" fill="#fff" stroke="#8000FF" stroke-width="3.8"/>
<circle cx="908.1" cy="192.7" r="7" fill="#fff" stroke="#8000FF" stroke-width="3.8"/>
<circle cx="990.7" cy="146.0" r="7" fill="#fff" stroke="#8000FF" stroke-width="3.8"/>
<circle cx="1073.9" cy="127.3" r="7" fill="#fff" stroke="#8000FF" stroke-width="3.8"/>
<circle cx="1156.2" cy="119.6" r="7" fill="#fff" stroke="#8000FF" stroke-width="3.8"/>
<circle cx="1238.4" cy="114.4" r="7" fill="#fff" stroke="#8000FF" stroke-width="3.8"/>
<circle cx="1321.6" cy="112.7" r="7" fill="#fff" stroke="#8000FF" stroke-width="3.8"/>
<g clip-path="url(#cc)" stroke="#008080" stroke-width="2.7" stroke-linejoin="round" fill="#fff"><use href="#st" x="213.7" y="815.6"/><use href="#st" x="320.3" y="843.6"/><use href="#st" x="309.6" y="788.4"/><use href="#st" x="349.4" y="789.5"/><use href="#st" x="267.5" y="784.8"/><use href="#st" x="273.9" y="810.2"/><use href="#st" x="237.1" y="782.8"/><use href="#st" x="327.8" y="808.6"/><use href="#st" x="261.6" y="747.6"/><use href="#st" x="331.9" y="751.0"/><use href="#st" x="236.0" y="853.1"/><use href="#st" x="302.5" y="742.2"/><use href="#st" x="270.0" y="771.7"/><use href="#st" x="351.6" y="786.1"/><use href="#st" x="320.3" y="752.0"/><use href="#st" x="258.3" y="826.1"/><use href="#st" x="231.5" y="783.5"/><use href="#st" x="337.7" y="771.6"/><use href="#st" x="290.7" y="785.0"/><use href="#st" x="254.9" y="818.7"/><use href="#st" x="327.3" y="751.7"/><use href="#st" x="233.8" y="776.7"/><use href="#st" x="281.3" y="828.1"/><use href="#st" x="302.0" y="785.0"/><use href="#st" x="347.7" y="768.5"/><use href="#st" x="297.3" y="825.1"/><use href="#st" x="337.2" y="822.1"/><use href="#st" x="340.5" y="823.1"/><use href="#st" x="320.3" y="837.5"/><use href="#st" x="331.7" y="782.5"/><use href="#st" x="273.0" y="758.2"/><use href="#st" x="323.7" y="798.3"/><use href="#st" x="234.3" y="813.4"/><use href="#st" x="233.0" y="836.5"/><use href="#st" x="328.3" y="749.6"/><use href="#st" x="249.0" y="797.3"/><use href="#st" x="263.4" y="778.2"/><use href="#st" x="321.9" y="747.4"/><use href="#st" x="256.3" y="782.0"/><use href="#st" x="257.8" y="823.7"/><use href="#st" x="224.6" y="791.9"/><use href="#st" x="320.7" y="782.0"/><use href="#st" x="345.4" y="763.8"/><use href="#st" x="248.3" y="783.2"/><use href="#st" x="288.5" y="814.7"/><use href="#st" x="298.2" y="793.0"/><use href="#st" x="235.0" y="769.4"/><use href="#st" x="245.9" y="834.3"/><use href="#st" x="278.1" y="772.3"/><use href="#st" x="225.4" y="788.5"/><use href="#st" x="282.2" y="790.6"/><use href="#st" x="306.3" y="826.8"/><use href="#st" x="292.8" y="746.6"/><use href="#st" x="269.5" y="780.7"/><use href="#st" x="332.9" y="799.7"/><use href="#st" x="258.1" y="781.7"/><use href="#st" x="268.8" y="744.4"/><use href="#st" x="333.5" y="811.4"/><use href="#st" x="310.6" y="831.2"/><use href="#st" x="269.1" y="794.1"/><use href="#st" x="266.0" y="759.4"/><use href="#st" x="352.8" y="780.8"/><use href="#st" x="248.4" y="809.5"/><use href="#st" x="337.8" y="831.7"/><use href="#st" x="214.1" y="846.9"/><use href="#st" x="302.5" y="758.0"/><use href="#st" x="322.7" y="831.3"/><use href="#st" x="234.8" y="832.4"/><use href="#st" x="237.7" y="849.5"/><use href="#st" x="298.7" y="799.7"/><use href="#st" x="235.0" y="780.7"/><use href="#st" x="270.2" y="757.5"/><use href="#st" x="293.0" y="770.1"/><use href="#st" x="240.3" y="799.7"/><use href="#st" x="323.0" y="770.8"/><use href="#st" x="240.5" y="761.5"/><use href="#st" x="271.6" y="821.0"/><use href="#st" x="246.1" y="824.6"/><use href="#st" x="340.4" y="775.2"/><use href="#st" x="237.4" y="768.3"/><use href="#st" x="242.8" y="836.6"/><use href="#st" x="281.1" y="812.5"/><use href="#st" x="226.2" y="790.7"/><use href="#st" x="206.1" y="835.5"/><use href="#st" x="244.3" y="846.0"/><use href="#st" x="238.6" y="819.5"/><use href="#st" x="212.1" y="840.5"/><use href="#st" x="250.0" y="756.8"/><use href="#st" x="278.4" y="813.3"/><use href="#st" x="335.2" y="764.2"/><use href="#st" x="220.3" y="801.9"/><use href="#st" x="267.1" y="828.2"/><use href="#st" x="330.0" y="796.9"/><use href="#st" x="340.0" y="800.0"/><use href="#st" x="274.1" y="766.0"/><use href="#st" x="332.5" y="838.6"/><use href="#st" x="214.8" y="810.5"/><use href="#st" x="284.6" y="771.8"/><use href="#st" x="326.8" y="770.6"/><use href="#st" x="211.0" y="816.8"/><use href="#st" x="330.1" y="762.0"/><use href="#st" x="282.4" y="753.3"/><use href="#st" x="257.6" y="772.5"/><use href="#st" x="327.5" y="842.3"/><use href="#st" x="297.3" y="829.6"/><use href="#st" x="230.3" y="821.8"/><use href="#st" x="223.5" y="830.4"/><use href="#st" x="279.0" y="799.3"/><use href="#st" x="306.6" y="811.8"/><use href="#st" x="295.6" y="758.0"/><use href="#st" x="219.9" y="817.6"/><use href="#st" x="332.8" y="836.4"/><use href="#st" x="348.5" y="772.7"/><use href="#st" x="305.9" y="839.8"/><use href="#st" x="254.8" y="801.6"/><use href="#st" x="249.9" y="829.3"/><use href="#st" x="246.0" y="752.4"/><use href="#st" x="340.1" y="784.5"/><use href="#st" x="228.7" y="802.3"/><use href="#st" x="275.4" y="828.4"/><use href="#st" x="309.3" y="845.5"/><use href="#st" x="291.8" y="779.7"/><use href="#st" x="301.1" y="775.3"/><use href="#st" x="252.0" y="804.0"/><use href="#st" x="284.0" y="742.4"/><use href="#st" x="330.1" y="814.2"/><use href="#st" x="345.7" y="806.6"/><use href="#st" x="313.7" y="811.9"/><use href="#st" x="265.9" y="804.9"/><use href="#st" x="310.8" y="744.5"/><use href="#st" x="252.0" y="773.1"/><use href="#st" x="296.5" y="832.8"/><use href="#st" x="318.9" y="817.8"/><use href="#st" x="336.4" y="779.7"/><use href="#st" x="289.1" y="740.1"/><use href="#st" x="291.3" y="796.7"/><use href="#st" x="304.8" y="831.3"/><use href="#st" x="336.0" y="753.6"/><use href="#st" x="241.7" y="765.7"/><use href="#st" x="277.7" y="786.5"/><use href="#st" x="237.0" y="794.1"/><use href="#st" x="279.9" y="745.2"/><use href="#st" x="306.0" y="791.9"/><use href="#st" x="289.3" y="808.3"/><use href="#st" x="304.6" y="801.1"/><use href="#st" x="282.3" y="764.7"/><use href="#st" x="206.6" y="827.1"/><use href="#st" x="250.5" y="762.3"/><use href="#st" x="266.4" y="789.5"/><use href="#st" x="351.3" y="792.0"/><use href="#st" x="327.3" y="780.2"/><use href="#st" x="290.7" y="825.7"/><use href="#st" x="210.1" y="842.8"/><use href="#st" x="229.2" y="839.5"/><use href="#st" x="313.9" y="802.2"/><use href="#st" x="302.1" y="806.7"/><use href="#st" x="311.1" y="773.8"/><use href="#st" x="324.1" y="823.7"/><use href="#st" x="250.8" y="750.2"/><use href="#st" x="239.3" y="834.9"/><use href="#st" x="329.8" y="829.6"/><use href="#st" x="252.1" y="818.3"/><use href="#st" x="275.1" y="741.9"/><use href="#st" x="210.4" y="829.5"/><use href="#st" x="305.5" y="814.0"/><use href="#st" x="235.7" y="823.2"/><use href="#st" x="223.5" y="807.1"/><use href="#st" x="250.1" y="834.7"/><use href="#st" x="321.1" y="792.6"/><use href="#st" x="324.3" y="838.5"/><use href="#st" x="309.9" y="743.2"/><use href="#st" x="336.0" y="791.6"/><use href="#st" x="297.8" y="746.6"/><use href="#st" x="235.9" y="812.5"/><use href="#st" x="284.8" y="777.8"/><use href="#st" x="261.2" y="745.7"/><use href="#st" x="219.0" y="840.9"/><use href="#st" x="307.2" y="839.4"/><use href="#st" x="269.4" y="825.8"/><use href="#st" x="321.3" y="765.2"/><use href="#st" x="268.2" y="748.2"/><use href="#st" x="243.3" y="853.3"/><use href="#st" x="347.1" y="801.6"/><use href="#st" x="310.5" y="778.6"/><use href="#st" x="287.1" y="761.8"/><use href="#st" x="231.5" y="851.7"/><use href="#st" x="317.4" y="821.8"/><use href="#st" x="295.9" y="820.6"/><use href="#st" x="224.7" y="852.4"/><use href="#st" x="311.1" y="820.3"/><use href="#st" x="348.1" y="793.5"/><use href="#st" x="318.6" y="777.3"/><use href="#st" x="255.1" y="792.3"/><use href="#st" x="285.9" y="830.8"/><use href="#st" x="342.2" y="810.5"/><use href="#st" x="306.6" y="762.0"/><use href="#st" x="250.3" y="811.4"/><use href="#st" x="248.2" y="779.5"/><use href="#st" x="296.4" y="765.2"/><use href="#st" x="255.6" y="756.6"/><use href="#st" x="220.2" y="809.9"/><use href="#st" x="340.7" y="813.2"/><use href="#st" x="283.6" y="789.0"/><use href="#st" x="294.5" y="740.6"/><use href="#st" x="305.9" y="771.7"/><use href="#st" x="283.9" y="798.5"/><use href="#st" x="262.7" y="809.8"/><use href="#st" x="218.9" y="826.7"/><use href="#st" x="224.3" y="849.5"/><use href="#st" x="313.1" y="753.1"/><use href="#st" x="520.1" y="722.4"/><use href="#st" x="552.2" y="751.6"/><use href="#st" x="541.1" y="715.8"/><use href="#st" x="547.4" y="739.5"/><use href="#st" x="596.4" y="723.9"/><use href="#st" x="524.8" y="710.6"/><use href="#st" x="580.7" y="707.0"/><use href="#st" x="542.6" y="720.8"/><use href="#st" x="576.2" y="737.4"/><use href="#st" x="572.8" y="747.3"/><use href="#st" x="551.8" y="708.7"/><use href="#st" x="562.6" y="734.1"/><use href="#st" x="565.5" y="740.1"/><use href="#st" x="524.9" y="736.7"/><use href="#st" x="561.0" y="703.7"/><use href="#st" x="585.0" y="733.9"/><use href="#st" x="537.1" y="711.5"/><use href="#st" x="536.7" y="746.6"/><use href="#st" x="531.2" y="741.8"/><use href="#st" x="573.4" y="728.7"/><use href="#st" x="555.1" y="706.6"/><use href="#st" x="590.2" y="730.1"/><use href="#st" x="559.3" y="723.1"/><use href="#st" x="553.5" y="702.8"/><use href="#st" x="544.4" y="735.2"/><use href="#st" x="556.3" y="732.6"/><use href="#st" x="540.0" y="743.7"/><use href="#st" x="556.3" y="751.6"/><use href="#st" x="575.0" y="717.1"/><use href="#st" x="544.7" y="701.9"/><use href="#st" x="537.3" y="735.6"/><use href="#st" x="583.8" y="714.5"/><use href="#st" x="538.3" y="720.7"/><use href="#st" x="571.5" y="744.5"/><use href="#st" x="544.6" y="703.4"/><use href="#st" x="563.6" y="713.6"/><use href="#st" x="548.0" y="728.0"/><use href="#st" x="521.2" y="717.0"/><use href="#st" x="530.8" y="735.7"/><use href="#st" x="597.8" y="727.1"/><use href="#st" x="525.7" y="707.2"/><use href="#st" x="561.2" y="744.1"/><use href="#st" x="535.2" y="702.0"/><use href="#st" x="581.8" y="724.1"/><use href="#st" x="561.4" y="741.2"/><use href="#st" x="582.9" y="730.6"/><use href="#st" x="537.7" y="749.3"/><use href="#st" x="575.1" y="703.7"/><use href="#st" x="533.0" y="720.7"/><use href="#st" x="564.0" y="751.6"/><use href="#st" x="580.0" y="709.8"/><use href="#st" x="520.5" y="714.8"/><use href="#st" x="577.1" y="741.3"/><use href="#st" x="528.0" y="718.5"/><use href="#st" x="552.8" y="703.5"/><use href="#st" x="530.2" y="738.3"/><use href="#st" x="566.4" y="723.8"/><use href="#st" x="561.8" y="700.3"/><use href="#st" x="568.5" y="707.4"/><use href="#st" x="534.2" y="707.8"/><use href="#st" x="544.0" y="748.0"/><use href="#st" x="571.1" y="729.1"/><use href="#st" x="520.7" y="729.0"/><use href="#st" x="596.3" y="718.4"/><use href="#st" x="577.8" y="718.2"/><use href="#st" x="546.6" y="754.0"/><use href="#st" x="554.7" y="715.3"/><use href="#st" x="490.7" y="781.3"/><use href="#st" x="475.2" y="769.3"/><use href="#st" x="485.2" y="809.6"/><use href="#st" x="464.0" y="768.7"/><use href="#st" x="504.3" y="824.2"/><use href="#st" x="478.7" y="803.2"/><use href="#st" x="485.4" y="768.2"/><use href="#st" x="471.5" y="789.6"/><use href="#st" x="472.0" y="770.7"/><use href="#st" x="473.0" y="767.3"/><use href="#st" x="472.9" y="797.9"/><use href="#st" x="471.1" y="760.4"/><use href="#st" x="489.9" y="807.2"/><use href="#st" x="464.7" y="795.7"/><use href="#st" x="468.5" y="802.0"/><use href="#st" x="495.5" y="789.2"/><use href="#st" x="459.9" y="774.1"/><use href="#st" x="495.9" y="804.9"/><use href="#st" x="463.5" y="787.2"/><use href="#st" x="479.0" y="777.8"/><use href="#st" x="502.4" y="818.9"/><use href="#st" x="461.1" y="761.3"/><use href="#st" x="487.3" y="791.0"/><use href="#st" x="476.1" y="811.9"/><use href="#st" x="475.7" y="762.0"/><use href="#st" x="465.7" y="779.2"/><use href="#st" x="474.0" y="776.7"/><use href="#st" x="460.7" y="756.8"/><use href="#st" x="488.9" y="775.3"/><use href="#st" x="501.7" y="824.9"/><use href="#st" x="460.4" y="767.2"/><use href="#st" x="487.9" y="797.2"/><use href="#st" x="468.5" y="792.7"/><use href="#st" x="498.4" y="799.2"/><use href="#st" x="490.7" y="812.8"/><use href="#st" x="478.7" y="817.3"/><use href="#st" x="500.8" y="806.8"/><use href="#st" x="494.4" y="822.4"/><use href="#st" x="479.8" y="795.7"/><use href="#st" x="496.7" y="811.1"/><use href="#st" x="476.0" y="788.6"/><use href="#st" x="492.7" y="818.8"/><use href="#st" x="484.0" y="821.0"/><use href="#st" x="470.7" y="804.4"/><use href="#st" x="485.5" y="775.0"/><use href="#st" x="231.8" y="856.0"/><use href="#st" x="222.5" y="864.4"/><use href="#st" x="206.5" y="872.0"/><use href="#st" x="214.9" y="874.5"/><use href="#st" x="230.1" y="881.3"/><use href="#st" x="239.3" y="869.5"/><use href="#st" x="236.8" y="888.9"/><use href="#st" x="227.5" y="896.4"/><use href="#st" x="209.0" y="908.3"/><use href="#st" x="218.3" y="908.3"/><use href="#st" x="230.9" y="909.9"/><use href="#st" x="229.2" y="916.7"/><use href="#st" x="214.9" y="933.5"/><use href="#st" x="231.8" y="937.8"/><use href="#st" x="210.7" y="942.8"/><use href="#st" x="218.3" y="956.3"/><use href="#st" x="214.9" y="983.3"/><use href="#st" x="214.9" y="991.7"/><use href="#st" x="242.7" y="978.2"/><use href="#st" x="216.6" y="1017.9"/><use href="#st" x="202.2" y="843.3"/><use href="#st" x="217.4" y="844.2"/><use href="#st" x="225.8" y="847.5"/><use href="#st" x="251.2" y="843.3"/><use href="#st" x="503.8" y="852.2"/><use href="#st" x="503.8" y="865.5"/><use href="#st" x="600.5" y="721.2"/><use href="#st" x="205.2" y="812.8"/><use href="#st" x="210.2" y="822.8"/></g>
<g clip-path="url(#cc)" stroke="#800080" stroke-width="2.7" stroke-linejoin="round" fill="#fff"><use href="#st" x="320.9" y="782.2"/><use href="#st" x="226.2" y="792.1"/><use href="#st" x="230.7" y="788.6"/><use href="#st" x="343.0" y="780.7"/><use href="#st" x="244.7" y="820.9"/><use href="#st" x="269.7" y="804.1"/><use href="#st" x="257.3" y="824.0"/><use href="#st" x="326.8" y="764.1"/><use href="#st" x="241.6" y="808.4"/><use href="#st" x="346.3" y="772.6"/><use href="#st" x="176.5" y="773.7"/><use href="#st" x="309.7" y="811.7"/><use href="#st" x="336.5" y="761.4"/><use href="#st" x="214.2" y="769.6"/><use href="#st" x="353.0" y="778.8"/><use href="#st" x="348.5" y="786.8"/><use href="#st" x="307.9" y="791.1"/><use href="#st" x="258.1" y="777.0"/><use href="#st" x="194.8" y="781.3"/><use href="#st" x="165.2" y="779.4"/><use href="#st" x="264.5" y="791.6"/><use href="#st" x="311.2" y="770.8"/><use href="#st" x="283.8" y="782.5"/><use href="#st" x="345.4" y="760.6"/><use href="#st" x="232.1" y="773.7"/><use href="#st" x="285.4" y="795.0"/><use href="#st" x="175.6" y="786.3"/><use href="#st" x="180.0" y="802.8"/><use href="#st" x="197.9" y="769.3"/><use href="#st" x="294.2" y="776.8"/><use href="#st" x="345.0" y="793.6"/><use href="#st" x="190.3" y="765.8"/><use href="#st" x="223.4" y="775.1"/><use href="#st" x="250.0" y="821.0"/><use href="#st" x="317.2" y="765.1"/><use href="#st" x="312.8" y="803.6"/><use href="#st" x="238.9" y="807.2"/><use href="#st" x="328.5" y="781.3"/><use href="#st" x="230.5" y="793.6"/><use href="#st" x="344.0" y="794.6"/><use href="#st" x="321.4" y="770.1"/><use href="#st" x="273.8" y="798.1"/><use href="#st" x="231.1" y="770.2"/><use href="#st" x="221.7" y="785.9"/><use href="#st" x="293.1" y="778.7"/><use href="#st" x="192.6" y="790.8"/><use href="#st" x="280.3" y="799.8"/><use href="#st" x="333.5" y="779.9"/><use href="#st" x="250.5" y="824.7"/><use href="#st" x="304.0" y="772.1"/><use href="#st" x="332.2" y="803.3"/><use href="#st" x="318.6" y="761.6"/><use href="#st" x="265.8" y="781.5"/><use href="#st" x="259.0" y="784.0"/><use href="#st" x="163.9" y="803.7"/><use href="#st" x="281.0" y="821.0"/><use href="#st" x="340.6" y="797.4"/><use href="#st" x="327.6" y="759.0"/><use href="#st" x="274.7" y="783.3"/><use href="#st" x="180.4" y="808.9"/><use href="#st" x="194.2" y="801.4"/><use href="#st" x="200.3" y="794.0"/><use href="#st" x="194.1" y="799.7"/><use href="#st" x="179.5" y="780.7"/><use href="#st" x="252.3" y="780.6"/><use href="#st" x="326.1" y="815.6"/><use href="#st" x="296.0" y="790.7"/><use href="#st" x="311.7" y="781.9"/><use href="#st" x="242.3" y="814.1"/><use href="#st" x="191.9" y="781.6"/><use href="#st" x="353.3" y="772.6"/><use href="#st" x="276.6" y="822.8"/><use href="#st" x="292.6" y="798.5"/><use href="#st" x="234.4" y="776.7"/><use href="#st" x="246.5" y="799.7"/><use href="#st" x="157.7" y="786.5"/><use href="#st" x="277.7" y="808.3"/><use href="#st" x="249.3" y="770.3"/><use href="#st" x="199.5" y="765.1"/><use href="#st" x="197.9" y="796.5"/><use href="#st" x="261.3" y="806.0"/><use href="#st" x="250.6" y="765.4"/><use href="#st" x="289.2" y="784.7"/><use href="#st" x="301.8" y="808.7"/><use href="#st" x="313.2" y="765.4"/><use href="#st" x="286.3" y="809.5"/><use href="#st" x="211.2" y="765.3"/><use href="#st" x="350.5" y="768.1"/><use href="#st" x="184.4" y="803.9"/><use href="#st" x="214.9" y="790.1"/><use href="#st" x="185.3" y="818.3"/><use href="#st" x="154.1" y="790.1"/><use href="#st" x="180.2" y="815.0"/><use href="#st" x="245.5" y="757.1"/><use href="#st" x="176.8" y="815.3"/><use href="#st" x="276.6" y="788.7"/><use href="#st" x="339.7" y="769.5"/><use href="#st" x="166.3" y="796.0"/><use href="#st" x="171.1" y="808.9"/><use href="#st" x="158.6" y="787.2"/><use href="#st" x="253.0" y="799.0"/><use href="#st" x="223.2" y="764.8"/><use href="#st" x="325.7" y="809.7"/><use href="#st" x="193.2" y="764.1"/><use href="#st" x="302.0" y="806.1"/><use href="#st" x="299.0" y="781.3"/><use href="#st" x="281.3" y="824.4"/><use href="#st" x="175.1" y="776.1"/><use href="#st" x="316.5" y="810.7"/><use href="#st" x="289.3" y="799.4"/><use href="#st" x="205.4" y="770.9"/><use href="#st" x="270.7" y="821.0"/><use href="#st" x="182.9" y="813.7"/><use href="#st" x="337.7" y="761.3"/><use href="#st" x="334.1" y="799.0"/><use href="#st" x="180.3" y="769.6"/><use href="#st" x="324.6" y="789.0"/><use href="#st" x="259.2" y="817.4"/><use href="#st" x="316.9" y="792.7"/><use href="#st" x="250.7" y="812.1"/><use href="#st" x="239.4" y="762.2"/><use href="#st" x="267.2" y="808.1"/><use href="#st" x="188.2" y="787.9"/><use href="#st" x="204.5" y="792.2"/><use href="#st" x="253.0" y="789.0"/><use href="#st" x="180.5" y="793.9"/><use href="#st" x="168.3" y="809.3"/><use href="#st" x="195.3" y="768.8"/><use href="#st" x="231.4" y="802.9"/><use href="#st" x="174.6" y="778.2"/><use href="#st" x="293.6" y="814.6"/><use href="#st" x="304.4" y="798.5"/><use href="#st" x="171.7" y="793.6"/><use href="#st" x="243.5" y="762.2"/><use href="#st" x="212.7" y="795.3"/><use href="#st" x="244.9" y="769.9"/><use href="#st" x="246.6" y="791.8"/><use href="#st" x="283.3" y="822.5"/><use href="#st" x="247.5" y="790.1"/><use href="#st" x="223.6" y="800.1"/><use href="#st" x="293.1" y="809.9"/><use href="#st" x="168.8" y="801.5"/><use href="#st" x="218.9" y="784.2"/><use href="#st" x="293.6" y="824.0"/><use href="#st" x="306.3" y="793.9"/><use href="#st" x="310.2" y="788.7"/><use href="#st" x="260.2" y="811.8"/><use href="#st" x="352.0" y="787.6"/><use href="#st" x="328.1" y="791.8"/><use href="#st" x="210.2" y="782.3"/><use href="#st" x="322.6" y="818.5"/><use href="#st" x="331.5" y="762.6"/><use href="#st" x="222.0" y="778.9"/><use href="#st" x="220.3" y="764.6"/><use href="#st" x="202.2" y="786.8"/><use href="#st" x="268.7" y="823.8"/><use href="#st" x="183.1" y="821.1"/><use href="#st" x="350.3" y="764.2"/><use href="#st" x="232.9" y="784.1"/><use href="#st" x="189.0" y="808.8"/><use href="#st" x="190.2" y="792.3"/><use href="#st" x="289.7" y="828.7"/><use href="#st" x="311.4" y="822.2"/><use href="#st" x="340.1" y="765.9"/><use href="#st" x="306.0" y="770.6"/><use href="#st" x="207.1" y="767.3"/><use href="#st" x="342.0" y="790.6"/><use href="#st" x="217.9" y="762.5"/><use href="#st" x="282.6" y="784.0"/><use href="#st" x="214.7" y="794.7"/><use href="#st" x="186.5" y="763.5"/><use href="#st" x="327.2" y="809.6"/><use href="#st" x="258.5" y="797.0"/><use href="#st" x="301.3" y="822.6"/><use href="#st" x="294.7" y="779.0"/><use href="#st" x="156.7" y="796.5"/><use href="#st" x="238.9" y="805.1"/><use href="#st" x="314.6" y="816.1"/><use href="#st" x="337.5" y="795.9"/><use href="#st" x="269.1" y="795.7"/><use href="#st" x="187.7" y="772.0"/><use href="#st" x="239.4" y="786.8"/><use href="#st" x="329.0" y="784.3"/><use href="#st" x="290.9" y="816.7"/><use href="#st" x="240.1" y="783.9"/><use href="#st" x="238.6" y="797.1"/><use href="#st" x="293.9" y="803.2"/><use href="#st" x="166.5" y="780.5"/><use href="#st" x="213.4" y="763.8"/><use href="#st" x="165.9" y="790.4"/><use href="#st" x="240.1" y="768.3"/><use href="#st" x="325.4" y="799.6"/><use href="#st" x="317.9" y="820.6"/><use href="#st" x="332.1" y="774.7"/><use href="#st" x="158.6" y="797.6"/><use href="#st" x="274.0" y="790.0"/><use href="#st" x="306.4" y="820.7"/><use href="#st" x="518.6" y="731.3"/><use href="#st" x="520.8" y="829.4"/><use href="#st" x="490.1" y="728.8"/><use href="#st" x="526.4" y="800.8"/><use href="#st" x="512.2" y="749.4"/><use href="#st" x="503.3" y="766.5"/><use href="#st" x="504.9" y="786.2"/><use href="#st" x="508.4" y="804.0"/><use href="#st" x="522.3" y="771.3"/><use href="#st" x="505.5" y="722.7"/><use href="#st" x="493.1" y="713.9"/><use href="#st" x="478.1" y="744.0"/><use href="#st" x="512.2" y="811.1"/><use href="#st" x="526.7" y="848.6"/><use href="#st" x="530.1" y="796.2"/><use href="#st" x="523.6" y="843.2"/><use href="#st" x="522.2" y="737.5"/><use href="#st" x="538.9" y="780.0"/><use href="#st" x="466.9" y="735.4"/><use href="#st" x="541.6" y="822.5"/><use href="#st" x="485.6" y="713.9"/><use href="#st" x="510.8" y="788.2"/><use href="#st" x="539.7" y="832.6"/><use href="#st" x="502.9" y="743.6"/><use href="#st" x="518.2" y="773.1"/><use href="#st" x="520.5" y="805.7"/><use href="#st" x="494.1" y="729.0"/><use href="#st" x="550.8" y="787.1"/><use href="#st" x="539.4" y="807.9"/><use href="#st" x="500.8" y="755.1"/><use href="#st" x="544.7" y="797.5"/><use href="#st" x="481.4" y="722.8"/><use href="#st" x="517.6" y="800.2"/><use href="#st" x="539.1" y="834.5"/><use href="#st" x="506.5" y="755.0"/><use href="#st" x="484.4" y="760.6"/><use href="#st" x="534.4" y="847.4"/><use href="#st" x="505.0" y="744.8"/><use href="#st" x="463.2" y="724.5"/><use href="#st" x="513.1" y="724.3"/><use href="#st" x="509.0" y="779.1"/><use href="#st" x="474.0" y="746.2"/><use href="#st" x="503.3" y="777.3"/><use href="#st" x="526.4" y="764.4"/><use href="#st" x="452.0" y="728.3"/><use href="#st" x="539.9" y="800.3"/><use href="#st" x="545.8" y="777.1"/><use href="#st" x="524.5" y="781.4"/><use href="#st" x="524.0" y="788.8"/><use href="#st" x="532.4" y="811.3"/><use href="#st" x="518.4" y="811.1"/><use href="#st" x="539.9" y="785.0"/><use href="#st" x="535.1" y="827.3"/><use href="#st" x="552.1" y="776.5"/><use href="#st" x="473.4" y="722.2"/><use href="#st" x="502.6" y="798.7"/><use href="#st" x="526.5" y="836.9"/><use href="#st" x="532.9" y="842.5"/><use href="#st" x="474.9" y="720.3"/><use href="#st" x="522.7" y="779.0"/><use href="#st" x="531.1" y="820.2"/><use href="#st" x="461.0" y="715.8"/><use href="#st" x="461.7" y="729.5"/><use href="#st" x="484.7" y="748.9"/><use href="#st" x="491.3" y="764.5"/><use href="#st" x="512.4" y="785.8"/><use href="#st" x="500.4" y="738.2"/><use href="#st" x="458.2" y="734.1"/><use href="#st" x="522.0" y="747.3"/><use href="#st" x="452.1" y="721.9"/><use href="#st" x="532.6" y="774.2"/><use href="#st" x="511.9" y="761.4"/><use href="#st" x="477.2" y="732.3"/><use href="#st" x="471.9" y="711.1"/><use href="#st" x="466.3" y="715.7"/><use href="#st" x="517.9" y="751.4"/><use href="#st" x="534.4" y="820.8"/><use href="#st" x="504.1" y="794.1"/><use href="#st" x="471.5" y="739.0"/><use href="#st" x="500.8" y="716.9"/><use href="#st" x="519.9" y="816.3"/><use href="#st" x="484.3" y="736.4"/><use href="#st" x="501.5" y="807.3"/><use href="#st" x="523.2" y="756.3"/><use href="#st" x="520.2" y="833.0"/><use href="#st" x="539.7" y="841.6"/><use href="#st" x="530.2" y="810.1"/><use href="#st" x="500.7" y="769.8"/><use href="#st" x="450.5" y="728.9"/><use href="#st" x="502.8" y="762.9"/><use href="#st" x="540.5" y="816.0"/><use href="#st" x="519.9" y="823.2"/><use href="#st" x="515.1" y="814.7"/><use href="#st" x="533.5" y="788.4"/><use href="#st" x="510.0" y="730.4"/><use href="#st" x="522.3" y="747.8"/><use href="#st" x="480.4" y="756.5"/><use href="#st" x="513.0" y="729.1"/><use href="#st" x="520.4" y="731.8"/><use href="#st" x="512.3" y="743.4"/><use href="#st" x="494.9" y="804.0"/><use href="#st" x="498.6" y="799.6"/><use href="#st" x="482.8" y="720.9"/><use href="#st" x="548.7" y="795.3"/><use href="#st" x="483.6" y="739.0"/><use href="#st" x="524.4" y="845.3"/><use href="#st" x="485.7" y="758.5"/><use href="#st" x="455.3" y="728.5"/><use href="#st" x="504.3" y="731.3"/><use href="#st" x="537.9" y="777.6"/><use href="#st" x="551.4" y="785.7"/><use href="#st" x="515.3" y="794.7"/><use href="#st" x="467.4" y="710.6"/><use href="#st" x="466.5" y="740.4"/><use href="#st" x="496.4" y="758.5"/><use href="#st" x="495.6" y="746.5"/><use href="#st" x="539.9" y="810.1"/><use href="#st" x="515.8" y="759.7"/><use href="#st" x="494.4" y="725.7"/><use href="#st" x="532.8" y="782.9"/><use href="#st" x="490.6" y="737.5"/><use href="#st" x="530.6" y="780.1"/><use href="#st" x="536.6" y="842.6"/><use href="#st" x="214.2" y="820.8"/><use href="#st" x="233.2" y="821.8"/><use href="#st" x="153.3" y="831.2"/><use href="#st" x="159.5" y="841.9"/><use href="#st" x="179.1" y="864.1"/><use href="#st" x="137.3" y="773.5"/><use href="#st" x="242.2" y="853.5"/><use href="#st" x="178.6" y="864.4"/><use href="#st" x="242.7" y="853.4"/><use href="#st" x="539.6" y="850.3"/><use href="#st" x="553.6" y="859.8"/><use href="#st" x="534.6" y="862.3"/><use href="#st" x="541.5" y="874.3"/><use href="#st" x="530.2" y="878.1"/><use href="#st" x="535.8" y="885.1"/><use href="#st" x="526.4" y="888.2"/><use href="#st" x="548.5" y="892.7"/><use href="#st" x="546.0" y="882.5"/><use href="#st" x="531.4" y="903.4"/><use href="#st" x="535.8" y="916.7"/><use href="#st" x="537.1" y="948.3"/><use href="#st" x="540.2" y="947.8"/><use href="#st" x="537.1" y="968.5"/><use href="#st" x="554.2" y="969.8"/><use href="#st" x="543.2" y="865.8"/><use href="#st" x="528.2" y="868.8"/></g>
<g clip-path="url(#cd)" stroke="#000099" stroke-width="2.7" stroke-linejoin="round" fill="#fff"><use href="#st" x="984.8" y="763.2"/><use href="#st" x="890.7" y="770.2"/><use href="#st" x="959.2" y="775.8"/><use href="#st" x="864.6" y="728.2"/><use href="#st" x="860.9" y="755.6"/><use href="#st" x="882.7" y="735.8"/><use href="#st" x="876.6" y="756.7"/><use href="#st" x="882.4" y="759.7"/><use href="#st" x="892.0" y="777.8"/><use href="#st" x="963.6" y="761.9"/><use href="#st" x="874.6" y="747.2"/><use href="#st" x="960.2" y="783.2"/><use href="#st" x="933.3" y="759.6"/><use href="#st" x="978.7" y="781.3"/><use href="#st" x="931.1" y="743.6"/><use href="#st" x="894.1" y="742.4"/><use href="#st" x="972.6" y="779.4"/><use href="#st" x="955.8" y="748.3"/><use href="#st" x="896.1" y="759.5"/><use href="#st" x="1014.9" y="777.2"/><use href="#st" x="892.4" y="749.0"/><use href="#st" x="921.6" y="763.1"/><use href="#st" x="925.7" y="755.6"/><use href="#st" x="967.8" y="775.2"/><use href="#st" x="983.5" y="762.0"/><use href="#st" x="975.8" y="764.2"/><use href="#st" x="873.3" y="728.4"/><use href="#st" x="868.1" y="753.6"/><use href="#st" x="917.8" y="763.1"/><use href="#st" x="856.8" y="731.1"/><use href="#st" x="855.6" y="736.5"/><use href="#st" x="880.2" y="767.8"/><use href="#st" x="861.9" y="759.4"/><use href="#st" x="951.4" y="755.3"/><use href="#st" x="1005.6" y="768.5"/><use href="#st" x="920.5" y="751.7"/><use href="#st" x="858.8" y="754.1"/><use href="#st" x="1020.0" y="776.2"/><use href="#st" x="846.9" y="730.2"/><use href="#st" x="996.0" y="780.7"/><use href="#st" x="907.9" y="742.3"/><use href="#st" x="972.0" y="782.3"/><use href="#st" x="938.5" y="753.7"/><use href="#st" x="874.4" y="773.5"/><use href="#st" x="872.7" y="734.4"/><use href="#st" x="993.5" y="766.7"/><use href="#st" x="986.3" y="780.3"/><use href="#st" x="848.5" y="739.8"/><use href="#st" x="909.1" y="760.0"/><use href="#st" x="913.1" y="766.5"/><use href="#st" x="865.2" y="772.0"/><use href="#st" x="895.4" y="775.1"/><use href="#st" x="890.6" y="738.4"/><use href="#st" x="956.0" y="782.6"/><use href="#st" x="889.0" y="757.9"/><use href="#st" x="934.5" y="746.3"/><use href="#st" x="839.7" y="726.6"/><use href="#st" x="864.8" y="726.8"/><use href="#st" x="859.7" y="724.7"/><use href="#st" x="1013.8" y="769.3"/><use href="#st" x="838.7" y="730.7"/><use href="#st" x="902.4" y="747.2"/><use href="#st" x="922.8" y="744.1"/><use href="#st" x="875.0" y="737.0"/><use href="#st" x="985.1" y="774.3"/><use href="#st" x="869.6" y="741.3"/><use href="#st" x="1022.5" y="775.8"/><use href="#st" x="864.5" y="745.3"/><use href="#st" x="943.8" y="770.4"/><use href="#st" x="954.8" y="768.2"/><use href="#st" x="884.0" y="744.8"/><use href="#st" x="912.7" y="776.5"/><use href="#st" x="1001.2" y="767.1"/><use href="#st" x="883.3" y="732.6"/><use href="#st" x="901.7" y="770.8"/><use href="#st" x="863.6" y="757.8"/><use href="#st" x="872.1" y="771.6"/><use href="#st" x="886.7" y="755.6"/><use href="#st" x="1015.2" y="775.9"/><use href="#st" x="851.3" y="720.6"/><use href="#st" x="941.3" y="763.2"/><use href="#st" x="948.8" y="757.1"/><use href="#st" x="1001.9" y="772.0"/><use href="#st" x="973.7" y="759.6"/><use href="#st" x="904.4" y="771.9"/><use href="#st" x="843.6" y="717.0"/><use href="#st" x="844.6" y="723.7"/><use href="#st" x="973.0" y="773.4"/><use href="#st" x="1003.8" y="778.7"/><use href="#st" x="853.4" y="746.7"/><use href="#st" x="920.9" y="771.3"/><use href="#st" x="856.0" y="745.1"/><use href="#st" x="969.6" y="760.3"/><use href="#st" x="898.2" y="749.3"/><use href="#st" x="991.9" y="764.9"/><use href="#st" x="949.7" y="776.6"/><use href="#st" x="920.7" y="741.5"/><use href="#st" x="929.1" y="765.6"/><use href="#st" x="861.7" y="735.4"/><use href="#st" x="934.1" y="762.4"/><use href="#st" x="862.9" y="768.9"/><use href="#st" x="1007.6" y="777.6"/><use href="#st" x="910.2" y="752.1"/><use href="#st" x="947.8" y="778.6"/><use href="#st" x="903.8" y="748.1"/><use href="#st" x="915.4" y="775.8"/><use href="#st" x="879.9" y="772.5"/><use href="#st" x="882.6" y="770.0"/><use href="#st" x="1021.7" y="774.0"/><use href="#st" x="1002.6" y="765.3"/><use href="#st" x="937.8" y="743.4"/><use href="#st" x="922.2" y="769.1"/><use href="#st" x="948.0" y="745.9"/><use href="#st" x="913.2" y="741.2"/><use href="#st" x="943.5" y="765.6"/><use href="#st" x="967.3" y="763.8"/><use href="#st" x="947.1" y="756.6"/><use href="#st" x="900.9" y="784.0"/><use href="#st" x="961.8" y="768.0"/><use href="#st" x="884.3" y="774.6"/><use href="#st" x="906.1" y="752.9"/><use href="#st" x="994.9" y="774.0"/><use href="#st" x="908.4" y="782.1"/><use href="#st" x="960.4" y="758.1"/><use href="#st" x="925.9" y="765.3"/><use href="#st" x="990.0" y="771.2"/><use href="#st" x="874.9" y="750.2"/><use href="#st" x="872.5" y="765.2"/><use href="#st" x="889.9" y="772.3"/><use href="#st" x="1202.9" y="727.6"/><use href="#st" x="1208.2" y="732.4"/><use href="#st" x="1252.6" y="749.9"/><use href="#st" x="1140.7" y="744.2"/><use href="#st" x="1177.9" y="735.0"/><use href="#st" x="1167.4" y="728.5"/><use href="#st" x="1236.0" y="731.3"/><use href="#st" x="1137.6" y="739.9"/><use href="#st" x="1219.9" y="738.3"/><use href="#st" x="1145.7" y="733.4"/><use href="#st" x="1242.1" y="747.7"/><use href="#st" x="1152.2" y="731.3"/><use href="#st" x="1190.2" y="732.6"/><use href="#st" x="1245.7" y="748.8"/><use href="#st" x="1177.9" y="745.0"/><use href="#st" x="1227.8" y="732.0"/><use href="#st" x="1175.7" y="737.7"/><use href="#st" x="1156.4" y="745.2"/><use href="#st" x="1222.4" y="746.1"/><use href="#st" x="1136.8" y="729.8"/><use href="#st" x="1153.9" y="736.5"/><use href="#st" x="1245.9" y="744.0"/><use href="#st" x="1193.0" y="733.0"/><use href="#st" x="1189.3" y="727.2"/><use href="#st" x="1125.1" y="742.2"/><use href="#st" x="1231.2" y="747.6"/><use href="#st" x="1232.3" y="742.8"/><use href="#st" x="1250.0" y="743.7"/><use href="#st" x="1119.4" y="738.8"/><use href="#st" x="1210.2" y="740.5"/><use href="#st" x="1200.9" y="727.1"/><use href="#st" x="1179.7" y="727.5"/><use href="#st" x="1221.4" y="731.1"/><use href="#st" x="1235.4" y="738.5"/><use href="#st" x="1245.8" y="735.1"/><use href="#st" x="1198.7" y="740.3"/><use href="#st" x="1218.8" y="744.6"/><use href="#st" x="1160.1" y="739.0"/><use href="#st" x="1142.6" y="729.8"/><use href="#st" x="1137.6" y="733.5"/><use href="#st" x="1212.3" y="730.8"/><use href="#st" x="1246.2" y="743.6"/><use href="#st" x="1171.4" y="739.5"/><use href="#st" x="1185.6" y="728.4"/><use href="#st" x="1173.6" y="730.2"/><use href="#st" x="1244.0" y="735.0"/><use href="#st" x="1203.0" y="744.2"/><use href="#st" x="1149.5" y="741.6"/><use href="#st" x="1155.0" y="732.2"/><use href="#st" x="1181.8" y="741.2"/><use href="#st" x="1233.7" y="733.8"/><use href="#st" x="1257.1" y="736.8"/><use href="#st" x="1176.6" y="733.4"/><use href="#st" x="1165.5" y="745.2"/><use href="#st" x="1249.5" y="734.6"/><use href="#st" x="1208.8" y="743.3"/><use href="#st" x="1158.9" y="730.3"/><use href="#st" x="1235.8" y="747.1"/><use href="#st" x="1172.5" y="745.6"/><use href="#st" x="1168.6" y="733.9"/><use href="#st" x="1215.6" y="731.2"/><use href="#st" x="1132.8" y="740.8"/><use href="#st" x="1127.7" y="731.3"/><use href="#st" x="1260.7" y="746.5"/><use href="#st" x="1149.0" y="744.7"/><use href="#st" x="1229.3" y="730.8"/><use href="#st" x="1184.5" y="744.4"/><use href="#st" x="1180.3" y="730.8"/><use href="#st" x="1190.3" y="741.3"/><use href="#st" x="1259.6" y="750.5"/><use href="#st" x="1255.4" y="752.0"/><use href="#st" x="1238.7" y="735.7"/><use href="#st" x="1196.3" y="744.4"/><use href="#st" x="1215.4" y="745.4"/><use href="#st" x="1206.5" y="735.9"/><use href="#st" x="1215.1" y="743.1"/><use href="#st" x="1200.7" y="744.3"/><use href="#st" x="1151.9" y="743.9"/><use href="#st" x="1123.9" y="734.8"/><use href="#st" x="839.0" y="816.1"/><use href="#st" x="834.5" y="836.6"/><use href="#st" x="830.1" y="709.8"/><use href="#st" x="838.9" y="713.6"/><use href="#st" x="827.5" y="728.7"/><use href="#st" x="835.2" y="731.8"/><use href="#st" x="844.8" y="730.4"/><use href="#st" x="848.2" y="716.8"/><use href="#st" x="850.2" y="738.8"/><use href="#st" x="842.2" y="722.8"/></g>
<g clip-path="url(#cd)" stroke="#8000FF" stroke-width="2.7" stroke-linejoin="round" fill="#fff"><use href="#st" x="930.7" y="805.1"/><use href="#st" x="926.0" y="879.7"/><use href="#st" x="892.7" y="858.9"/><use href="#st" x="904.0" y="886.3"/><use href="#st" x="917.1" y="812.3"/><use href="#st" x="929.5" y="847.9"/><use href="#st" x="986.0" y="821.1"/><use href="#st" x="905.6" y="892.3"/><use href="#st" x="979.5" y="806.4"/><use href="#st" x="962.9" y="813.8"/><use href="#st" x="922.7" y="865.3"/><use href="#st" x="959.6" y="819.7"/><use href="#st" x="892.7" y="866.8"/><use href="#st" x="914.2" y="855.0"/><use href="#st" x="928.1" y="814.5"/><use href="#st" x="902.1" y="909.8"/><use href="#st" x="905.0" y="835.8"/><use href="#st" x="922.1" y="883.0"/><use href="#st" x="927.6" y="870.4"/><use href="#st" x="924.8" y="805.4"/><use href="#st" x="931.1" y="835.3"/><use href="#st" x="951.9" y="800.1"/><use href="#st" x="950.8" y="822.7"/><use href="#st" x="914.1" y="893.9"/><use href="#st" x="908.5" y="860.9"/><use href="#st" x="906.1" y="834.1"/><use href="#st" x="898.9" y="909.3"/><use href="#st" x="906.3" y="912.6"/><use href="#st" x="958.0" y="809.2"/><use href="#st" x="914.1" y="882.1"/><use href="#st" x="899.4" y="835.5"/><use href="#st" x="921.6" y="806.0"/><use href="#st" x="924.6" y="899.4"/><use href="#st" x="902.2" y="862.8"/><use href="#st" x="905.1" y="866.0"/><use href="#st" x="913.5" y="903.6"/><use href="#st" x="944.5" y="799.1"/><use href="#st" x="895.1" y="846.1"/><use href="#st" x="898.3" y="847.3"/><use href="#st" x="916.9" y="911.8"/><use href="#st" x="925.4" y="907.4"/><use href="#st" x="893.8" y="876.3"/><use href="#st" x="905.4" y="823.3"/><use href="#st" x="979.9" y="805.5"/><use href="#st" x="911.2" y="826.2"/><use href="#st" x="933.5" y="825.9"/><use href="#st" x="917.2" y="839.4"/><use href="#st" x="936.9" y="798.9"/><use href="#st" x="953.3" y="803.0"/><use href="#st" x="910.3" y="896.3"/><use href="#st" x="892.3" y="848.2"/><use href="#st" x="896.2" y="881.7"/><use href="#st" x="903.8" y="850.1"/><use href="#st" x="953.5" y="802.1"/><use href="#st" x="940.2" y="823.6"/><use href="#st" x="940.7" y="814.4"/><use href="#st" x="901.4" y="902.2"/><use href="#st" x="913.6" y="807.9"/><use href="#st" x="924.5" y="897.8"/><use href="#st" x="918.8" y="832.3"/><use href="#st" x="901.1" y="831.3"/><use href="#st" x="938.7" y="800.1"/><use href="#st" x="913.5" y="869.3"/><use href="#st" x="921.7" y="840.9"/><use href="#st" x="899.2" y="894.0"/><use href="#st" x="926.8" y="854.7"/><use href="#st" x="992.2" y="805.8"/><use href="#st" x="923.9" y="893.8"/><use href="#st" x="932.8" y="826.2"/><use href="#st" x="929.2" y="853.4"/><use href="#st" x="919.6" y="810.2"/><use href="#st" x="913.7" y="874.1"/><use href="#st" x="919.8" y="807.7"/><use href="#st" x="927.2" y="860.9"/><use href="#st" x="895.3" y="839.8"/><use href="#st" x="922.3" y="820.5"/><use href="#st" x="912.1" y="821.9"/><use href="#st" x="902.5" y="824.1"/><use href="#st" x="913.8" y="910.0"/><use href="#st" x="973.3" y="816.6"/><use href="#st" x="989.6" y="816.0"/><use href="#st" x="897.2" y="903.5"/><use href="#st" x="968.9" y="806.0"/><use href="#st" x="980.0" y="814.8"/><use href="#st" x="943.4" y="817.0"/><use href="#st" x="970.7" y="804.1"/><use href="#st" x="955.6" y="814.6"/><use href="#st" x="961.0" y="822.5"/><use href="#st" x="997.7" y="810.3"/><use href="#st" x="921.1" y="864.0"/><use href="#st" x="966.9" y="821.0"/><use href="#st" x="929.8" y="843.4"/><use href="#st" x="897.7" y="867.9"/><use href="#st" x="924.8" y="888.2"/><use href="#st" x="923.4" y="848.9"/><use href="#st" x="943.7" y="803.9"/><use href="#st" x="994.8" y="815.5"/><use href="#st" x="926.5" y="864.7"/><use href="#st" x="912.7" y="815.8"/><use href="#st" x="907.8" y="814.8"/><use href="#st" x="901.3" y="876.0"/><use href="#st" x="982.1" y="819.4"/><use href="#st" x="918.9" y="907.0"/><use href="#st" x="963.3" y="801.3"/><use href="#st" x="914.5" y="848.0"/><use href="#st" x="917.8" y="874.8"/><use href="#st" x="896.3" y="854.9"/><use href="#st" x="931.9" y="831.1"/><use href="#st" x="1145.3" y="790.0"/><use href="#st" x="1172.7" y="796.7"/><use href="#st" x="1136.8" y="787.7"/><use href="#st" x="1178.3" y="788.9"/><use href="#st" x="1254.5" y="792.3"/><use href="#st" x="1268.0" y="783.3"/><use href="#st" x="1237.0" y="791.7"/><use href="#st" x="1186.1" y="807.0"/><use href="#st" x="1237.1" y="798.9"/><use href="#st" x="1238.7" y="796.1"/><use href="#st" x="1258.0" y="780.5"/><use href="#st" x="1238.4" y="778.6"/><use href="#st" x="1232.8" y="784.4"/><use href="#st" x="1253.7" y="790.2"/><use href="#st" x="1149.3" y="786.4"/><use href="#st" x="1220.7" y="792.0"/><use href="#st" x="1225.7" y="799.4"/><use href="#st" x="1185.0" y="801.6"/><use href="#st" x="1213.7" y="804.9"/><use href="#st" x="1176.8" y="802.5"/><use href="#st" x="1173.2" y="798.7"/><use href="#st" x="1173.1" y="788.4"/><use href="#st" x="1181.6" y="792.3"/><use href="#st" x="1242.1" y="776.6"/><use href="#st" x="1245.2" y="796.9"/><use href="#st" x="1257.6" y="790.2"/><use href="#st" x="1145.0" y="785.5"/><use href="#st" x="1205.2" y="792.4"/><use href="#st" x="1221.7" y="804.9"/><use href="#st" x="1247.5" y="795.6"/><use href="#st" x="1222.2" y="799.8"/><use href="#st" x="1196.3" y="804.5"/><use href="#st" x="1206.9" y="798.0"/><use href="#st" x="1221.3" y="779.8"/><use href="#st" x="1191.6" y="785.4"/><use href="#st" x="1161.1" y="787.9"/><use href="#st" x="1202.7" y="802.5"/><use href="#st" x="1200.7" y="786.3"/><use href="#st" x="1130.5" y="784.6"/><use href="#st" x="1225.2" y="782.2"/><use href="#st" x="1254.7" y="786.6"/><use href="#st" x="1162.2" y="796.4"/><use href="#st" x="1187.1" y="791.5"/><use href="#st" x="1214.2" y="808.7"/><use href="#st" x="1138.4" y="782.3"/><use href="#st" x="1228.8" y="788.5"/><use href="#st" x="1248.0" y="782.4"/><use href="#st" x="1156.3" y="795.2"/><use href="#st" x="1249.2" y="791.0"/><use href="#st" x="1192.4" y="805.9"/><use href="#st" x="1213.6" y="789.1"/><use href="#st" x="1231.0" y="801.3"/><use href="#st" x="1234.2" y="777.0"/><use href="#st" x="1201.6" y="806.0"/><use href="#st" x="1162.8" y="792.3"/><use href="#st" x="1256.6" y="776.5"/><use href="#st" x="1193.7" y="797.8"/><use href="#st" x="1264.6" y="779.7"/><use href="#st" x="1183.6" y="802.4"/><use href="#st" x="1207.1" y="785.3"/><use href="#st" x="1169.5" y="794.2"/><use href="#st" x="1214.4" y="783.7"/><use href="#st" x="1203.3" y="796.4"/><use href="#st" x="1198.4" y="791.3"/><use href="#st" x="1248.7" y="777.9"/><use href="#st" x="1154.2" y="786.7"/><use href="#st" x="1191.7" y="803.2"/><use href="#st" x="1250.8" y="776.5"/><use href="#st" x="907.4" y="937.8"/><use href="#st" x="919.3" y="937.8"/><use href="#st" x="925.2" y="947.5"/><use href="#st" x="914.1" y="956.4"/><use href="#st" x="907.4" y="959.3"/><use href="#st" x="923.7" y="954.8"/><use href="#st" x="1270.2" y="777.8"/></g>
<g clip-path="url(#cd)" stroke="#FF4040" stroke-width="2.7" stroke-linejoin="round" fill="#fff"><use href="#st" x="967.4" y="801.6"/><use href="#st" x="896.9" y="811.9"/><use href="#st" x="865.9" y="788.1"/><use href="#st" x="960.6" y="816.9"/><use href="#st" x="926.8" y="829.9"/><use href="#st" x="864.1" y="826.2"/><use href="#st" x="909.3" y="814.6"/><use href="#st" x="1025.6" y="795.5"/><use href="#st" x="886.6" y="838.5"/><use href="#st" x="911.1" y="834.5"/><use href="#st" x="843.3" y="786.6"/><use href="#st" x="869.7" y="814.7"/><use href="#st" x="926.0" y="829.0"/><use href="#st" x="890.7" y="837.6"/><use href="#st" x="992.9" y="797.8"/><use href="#st" x="891.7" y="839.1"/><use href="#st" x="942.9" y="806.9"/><use href="#st" x="893.1" y="822.4"/><use href="#st" x="972.6" y="813.7"/><use href="#st" x="860.4" y="841.2"/><use href="#st" x="992.8" y="799.8"/><use href="#st" x="956.8" y="810.2"/><use href="#st" x="948.8" y="823.1"/><use href="#st" x="876.3" y="815.9"/><use href="#st" x="941.2" y="825.4"/><use href="#st" x="890.8" y="807.8"/><use href="#st" x="997.1" y="796.1"/><use href="#st" x="895.4" y="832.0"/><use href="#st" x="836.5" y="864.0"/><use href="#st" x="937.4" y="823.2"/><use href="#st" x="846.4" y="783.6"/><use href="#st" x="990.2" y="807.3"/><use href="#st" x="916.6" y="813.7"/><use href="#st" x="894.3" y="803.3"/><use href="#st" x="885.0" y="820.7"/><use href="#st" x="925.0" y="810.6"/><use href="#st" x="838.5" y="851.0"/><use href="#st" x="892.6" y="806.4"/><use href="#st" x="891.3" y="815.4"/><use href="#st" x="985.1" y="811.1"/><use href="#st" x="883.4" y="814.9"/><use href="#st" x="921.6" y="821.1"/><use href="#st" x="852.9" y="846.8"/><use href="#st" x="964.2" y="815.8"/><use href="#st" x="893.8" y="829.1"/><use href="#st" x="851.1" y="812.8"/><use href="#st" x="851.6" y="838.0"/><use href="#st" x="932.7" y="829.6"/><use href="#st" x="958.5" y="805.7"/><use href="#st" x="849.7" y="858.6"/><use href="#st" x="842.6" y="786.1"/><use href="#st" x="901.2" y="838.0"/><use href="#st" x="850.1" y="838.5"/><use href="#st" x="944.5" y="822.0"/><use href="#st" x="908.0" y="833.8"/><use href="#st" x="976.7" y="800.5"/><use href="#st" x="844.4" y="864.2"/><use href="#st" x="858.6" y="833.5"/><use href="#st" x="901.6" y="808.6"/><use href="#st" x="902.7" y="822.8"/><use href="#st" x="843.0" y="857.4"/><use href="#st" x="950.8" y="806.2"/><use href="#st" x="867.0" y="804.3"/><use href="#st" x="1016.0" y="802.5"/><use href="#st" x="951.8" y="819.8"/><use href="#st" x="929.3" y="811.7"/><use href="#st" x="852.0" y="795.8"/><use href="#st" x="834.7" y="790.5"/><use href="#st" x="859.6" y="846.0"/><use href="#st" x="856.9" y="829.1"/><use href="#st" x="849.5" y="806.9"/><use href="#st" x="987.1" y="796.9"/><use href="#st" x="956.5" y="819.6"/><use href="#st" x="999.4" y="804.5"/><use href="#st" x="897.0" y="829.5"/><use href="#st" x="1014.3" y="795.2"/><use href="#st" x="886.0" y="794.6"/><use href="#st" x="855.8" y="798.4"/><use href="#st" x="844.0" y="843.4"/><use href="#st" x="929.8" y="820.7"/><use href="#st" x="837.9" y="855.5"/><use href="#st" x="854.1" y="809.6"/><use href="#st" x="855.3" y="787.3"/><use href="#st" x="876.7" y="796.6"/><use href="#st" x="869.3" y="819.7"/><use href="#st" x="1010.0" y="794.3"/><use href="#st" x="917.8" y="832.4"/><use href="#st" x="852.3" y="808.3"/><use href="#st" x="866.1" y="841.8"/><use href="#st" x="917.9" y="824.8"/><use href="#st" x="931.7" y="810.3"/><use href="#st" x="844.8" y="852.6"/><use href="#st" x="1022.2" y="800.8"/><use href="#st" x="838.9" y="787.1"/><use href="#st" x="868.5" y="831.4"/><use href="#st" x="836.7" y="788.7"/><use href="#st" x="885.3" y="826.6"/><use href="#st" x="911.2" y="825.1"/><use href="#st" x="837.4" y="851.1"/><use href="#st" x="1007.6" y="801.2"/><use href="#st" x="883.7" y="798.4"/><use href="#st" x="881.5" y="818.3"/><use href="#st" x="945.5" y="812.2"/><use href="#st" x="1007.8" y="802.9"/><use href="#st" x="913.2" y="817.1"/><use href="#st" x="863.1" y="805.4"/><use href="#st" x="908.0" y="810.3"/><use href="#st" x="861.7" y="821.7"/><use href="#st" x="875.0" y="839.4"/><use href="#st" x="980.9" y="805.2"/><use href="#st" x="877.2" y="804.8"/><use href="#st" x="966.2" y="810.5"/><use href="#st" x="918.1" y="812.4"/><use href="#st" x="879.0" y="836.6"/><use href="#st" x="979.4" y="810.4"/><use href="#st" x="855.3" y="820.1"/><use href="#st" x="879.8" y="791.7"/><use href="#st" x="972.1" y="807.2"/><use href="#st" x="844.6" y="797.9"/><use href="#st" x="872.0" y="791.4"/><use href="#st" x="950.3" y="812.5"/><use href="#st" x="933.3" y="827.3"/><use href="#st" x="858.2" y="786.9"/><use href="#st" x="870.3" y="791.7"/><use href="#st" x="875.4" y="824.1"/><use href="#st" x="869.4" y="796.0"/><use href="#st" x="841.9" y="786.3"/><use href="#st" x="1000.3" y="796.6"/><use href="#st" x="1123.1" y="799.8"/><use href="#st" x="1128.7" y="805.5"/><use href="#st" x="1182.6" y="852.0"/><use href="#st" x="1148.3" y="796.7"/><use href="#st" x="1175.8" y="814.1"/><use href="#st" x="1155.6" y="837.7"/><use href="#st" x="1195.7" y="871.1"/><use href="#st" x="1174.5" y="836.9"/><use href="#st" x="1191.1" y="892.3"/><use href="#st" x="1183.5" y="879.4"/><use href="#st" x="1201.1" y="878.2"/><use href="#st" x="1154.7" y="789.9"/><use href="#st" x="1132.0" y="797.3"/><use href="#st" x="1188.6" y="831.4"/><use href="#st" x="1159.7" y="832.4"/><use href="#st" x="1192.5" y="866.2"/><use href="#st" x="1143.2" y="821.6"/><use href="#st" x="1191.8" y="882.7"/><use href="#st" x="1169.9" y="817.1"/><use href="#st" x="1195.4" y="840.8"/><use href="#st" x="1187.0" y="888.5"/><use href="#st" x="1174.5" y="856.1"/><use href="#st" x="1130.5" y="805.2"/><use href="#st" x="1200.7" y="878.3"/><use href="#st" x="1188.9" y="906.1"/><use href="#st" x="1143.7" y="787.4"/><use href="#st" x="1198.4" y="854.5"/><use href="#st" x="1203.8" y="855.1"/><use href="#st" x="1171.8" y="841.5"/><use href="#st" x="1164.9" y="841.6"/><use href="#st" x="1183.8" y="883.9"/><use href="#st" x="1204.7" y="885.4"/><use href="#st" x="1202.8" y="844.7"/><use href="#st" x="1132.0" y="786.0"/><use href="#st" x="1178.3" y="820.3"/><use href="#st" x="1195.0" y="844.9"/><use href="#st" x="1185.5" y="868.2"/><use href="#st" x="1205.5" y="846.8"/><use href="#st" x="1179.5" y="859.7"/><use href="#st" x="1159.5" y="814.3"/><use href="#st" x="1160.5" y="798.3"/><use href="#st" x="1190.2" y="893.7"/><use href="#st" x="1187.2" y="861.1"/><use href="#st" x="1144.3" y="813.2"/><use href="#st" x="1195.9" y="858.3"/><use href="#st" x="1202.5" y="886.2"/><use href="#st" x="1125.2" y="789.7"/><use href="#st" x="1139.2" y="807.2"/><use href="#st" x="1198.2" y="867.9"/><use href="#st" x="1180.0" y="834.7"/><use href="#st" x="1196.5" y="828.0"/><use href="#st" x="1130.1" y="790.2"/><use href="#st" x="1139.7" y="792.3"/><use href="#st" x="1164.6" y="794.0"/><use href="#st" x="1158.6" y="792.3"/><use href="#st" x="1136.0" y="809.2"/><use href="#st" x="1186.6" y="851.9"/><use href="#st" x="1157.6" y="821.4"/><use href="#st" x="1185.3" y="907.2"/><use href="#st" x="1185.3" y="893.0"/><use href="#st" x="1129.4" y="797.7"/><use href="#st" x="1206.5" y="904.6"/><use href="#st" x="1201.6" y="829.0"/><use href="#st" x="1188.9" y="844.0"/><use href="#st" x="1152.4" y="800.0"/><use href="#st" x="1147.8" y="832.8"/><use href="#st" x="1158.3" y="836.3"/><use href="#st" x="1144.6" y="828.7"/><use href="#st" x="1171.4" y="849.5"/><use href="#st" x="1201.2" y="868.5"/><use href="#st" x="1199.4" y="898.7"/><use href="#st" x="1175.6" y="807.3"/><use href="#st" x="1146.4" y="787.4"/><use href="#st" x="1161.2" y="811.1"/><use href="#st" x="1174.8" y="831.4"/><use href="#st" x="1189.3" y="906.6"/><use href="#st" x="1150.3" y="811.4"/><use href="#st" x="1188.5" y="841.4"/><use href="#st" x="1187.3" y="872.3"/><use href="#st" x="1163.3" y="823.7"/><use href="#st" x="1151.8" y="833.3"/><use href="#st" x="1195.1" y="830.6"/><use href="#st" x="1205.7" y="836.9"/><use href="#st" x="1172.4" y="799.6"/><use href="#st" x="1146.4" y="826.0"/><use href="#st" x="1120.2" y="793.1"/><use href="#st" x="1182.1" y="897.3"/><use href="#st" x="1204.0" y="859.6"/><use href="#st" x="1175.1" y="863.3"/><use href="#st" x="1165.2" y="832.4"/><use href="#st" x="1157.3" y="792.7"/><use href="#st" x="1118.9" y="788.8"/><use href="#st" x="1150.7" y="816.6"/><use href="#st" x="1181.2" y="887.3"/><use href="#st" x="1153.7" y="787.2"/><use href="#st" x="1167.5" y="841.3"/><use href="#st" x="1205.4" y="896.0"/><use href="#st" x="1143.2" y="803.4"/><use href="#st" x="1174.2" y="800.5"/><use href="#st" x="1174.8" y="821.6"/><use href="#st" x="1182.1" y="821.8"/><use href="#st" x="1176.8" y="844.3"/><use href="#st" x="1187.0" y="824.4"/><use href="#st" x="1179.2" y="871.1"/><use href="#st" x="1173.6" y="855.7"/><use href="#st" x="1200.7" y="905.7"/><use href="#st" x="1167.5" y="797.2"/><use href="#st" x="1158.1" y="806.5"/><use href="#st" x="834.8" y="862.3"/><use href="#st" x="849.6" y="863.0"/><use href="#st" x="854.1" y="848.2"/><use href="#st" x="839.3" y="846.7"/><use href="#st" x="863.0" y="854.1"/><use href="#st" x="865.9" y="844.5"/><use href="#st" x="812.2" y="782.8"/><use href="#st" x="1184.8" y="907.7"/><use href="#st" x="1204.4" y="906.9"/><use href="#st" x="1192.9" y="895.5"/><use href="#st" x="1201.1" y="890.6"/><use href="#st" x="1183.2" y="884.1"/><use href="#st" x="1207.6" y="888.9"/><use href="#st" x="1208.4" y="936.2"/><use href="#st" x="1184.0" y="944.4"/><use href="#st" x="1187.2" y="955.8"/><use href="#st" x="1199.5" y="957.4"/><use href="#st" x="1208.4" y="955.0"/><use href="#st" x="1208.4" y="963.9"/><use href="#st" x="1188.1" y="974.5"/><use href="#st" x="1194.6" y="1022.6"/><use href="#st" x="1192.1" y="1051.9"/></g>
<circle cx="183.9" cy="648.9" r="7.4" fill="#000"/>
<line x1="183.9" y1="648.9" x2="229.0" y2="650.6" stroke="#000" stroke-width="2.3"/>
<path d="M245.0 651.2L226.8 655.0L227.2 646.0Z" fill="#000"/>
<line x1="245.0" y1="651.2" x2="270.0" y2="639.7" stroke="#f00" stroke-width="2.3"/>
<path d="M284.5 633.0L270.0 644.6L266.3 636.4Z" fill="#f00"/>
<circle cx="292.2" cy="630.6" r="7.4" fill="#f00"/>
<line x1="243.1" y1="654.1" x2="265.6" y2="681.3" stroke="#f00" stroke-width="2.3"/>
<path d="M275.8 693.6L260.9 682.6L267.8 676.9Z" fill="#f00"/>
<circle cx="281.2" cy="699" r="7.4" fill="#f00"/>
<text x="153.9" y="671.5" font-size="40" fill="#000">λ</text>
<text x="312.5" y="651.2" font-size="40" fill="#f00" font-style="italic">λ<tspan dx="1" dy="-13" font-size="31">′</tspan></text>
<text x="297.5" y="724.5" font-size="40" fill="#f00" font-style="italic">λ<tspan dx="1" dy="-13" font-size="31">″</tspan></text>
<line x1="314.4" y1="675.3" x2="442.7" y2="756.0" stroke="#008080" stroke-width="2.6"/>
<path d="M459.6 766.7L438.1 759.6L443.9 750.3Z" fill="#008080"/>
<text x="281" y="922" font-size="40" fill="#000">λ</text>
<circle cx="291.1" cy="932.9" r="7.4" fill="#000"/>
<line x1="291.1" y1="932.9" x2="334.9" y2="953.3" stroke="#000" stroke-width="2.3"/>
<path d="M349.4 960.1L331.2 956.6L335.0 948.4Z" fill="#000"/>
<circle cx="282.6" cy="998.2" r="7.4" fill="#00f"/>
<line x1="282.6" y1="998.2" x2="336.4" y2="966.6" stroke="#00f" stroke-width="2.3"/>
<path d="M350.2 958.5L337.0 971.5L332.4 963.7Z" fill="#00f"/>
<line x1="349.4" y1="957.0" x2="387.9" y2="958.6" stroke="#f00" stroke-width="2.3"/>
<path d="M403.9 959.3L385.7 963.0L386.1 954.0Z" fill="#f00"/>
<circle cx="411.6" cy="957.8" r="7.4" fill="#f00"/>
<text x="406.5" y="1005.2" font-size="40" fill="#f00" font-style="italic">λ<tspan dx="1" dy="-13" font-size="31">″</tspan></text>
<text x="273.5" y="1047.2" font-size="40" fill="#00f" font-style="italic">λ<tspan dx="1" dy="-13" font-size="31">′</tspan></text>
<line x1="397.6" y1="943.5" x2="504.0" y2="907.9" stroke="#800080" stroke-width="2.3"/>
<path d="M521.1 902.2L503.7 913.3L500.5 903.8Z" fill="#800080"/>
<text x="867.6" y="658.7" font-size="40" fill="#000">λ</text>
<circle cx="898.5" cy="641.5" r="7.4" fill="#000"/>
<line x1="898.5" y1="641.5" x2="941.4" y2="640.6" stroke="#000" stroke-width="2.3"/>
<path d="M957.4 640.2L939.5 645.1L939.3 636.1Z" fill="#000"/>
<line x1="956.5" y1="640.2" x2="1004.1" y2="633.7" stroke="#f00" stroke-width="2.3"/>
<path d="M1020.0 631.5L1002.8 638.4L1001.6 629.5Z" fill="#f00"/>
<circle cx="1027.8" cy="630.9" r="7.4" fill="#f00"/>
<line x1="956.5" y1="640.2" x2="988.8" y2="658.3" stroke="#f00" stroke-width="2.3"/>
<path d="M1002.8 666.1L984.9 661.2L989.3 653.4Z" fill="#f00"/>
<circle cx="1009.6" cy="668.9" r="7.4" fill="#f00"/>
<line x1="956.5" y1="640.2" x2="972.2" y2="681.7" stroke="#f00" stroke-width="2.3"/>
<path d="M977.8 696.7L967.2 681.4L975.7 678.3Z" fill="#f00"/>
<circle cx="980.6" cy="704.4" r="7.4" fill="#f00"/>
<text x="1052.5" y="647.6" font-size="40" fill="#f00" font-style="italic">λ<tspan dx="1" dy="-13" font-size="31">′</tspan></text>
<text x="1026.5" y="691.1" font-size="40" fill="#f00" font-style="italic">λ<tspan dx="1" dy="-13" font-size="31">″</tspan></text>
<text x="997.5" y="735.6" font-size="40" fill="#f00" font-style="italic">λ<tspan dx="1" dy="-13" font-size="31">‴</tspan></text>
<line x1="1040.3" y1="698.0" x2="1151.0" y2="769.8" stroke="#8000FF" stroke-width="2.6"/>
<path d="M1167.8 780.7L1146.3 773.3L1152.3 764.1Z" fill="#8000FF"/>
<text x="836.9" y="935.6" font-size="40" fill="#000">λ</text>
<circle cx="850.3" cy="953.3" r="7.4" fill="#000"/>
<line x1="850.3" y1="953.3" x2="890.1" y2="983.6" stroke="#000" stroke-width="2.3"/>
<path d="M902.8 993.3L885.8 986.0L891.2 978.8Z" fill="#000"/>
<circle cx="847.7" cy="1000.4" r="7.4" fill="#00f"/>
<line x1="847.7" y1="1000.4" x2="887.7" y2="1001.0" stroke="#00f" stroke-width="2.3"/>
<path d="M903.7 1001.3L885.6 1005.5L885.8 996.5Z" fill="#00f"/>
<circle cx="849.1" cy="1044.5" r="7.4" fill="#00f"/>
<line x1="849.1" y1="1044.5" x2="888.3" y2="1014.6" stroke="#00f" stroke-width="2.3"/>
<path d="M901.0 1004.9L889.4 1019.4L884.0 1012.2Z" fill="#00f"/>
<text x="825.5" y="988" font-size="40" fill="#00f" font-style="italic">λ<tspan dx="1" dy="-13" font-size="31">′</tspan></text>
<text x="824.0" y="1051.1" font-size="40" fill="#00f" font-style="italic">λ<tspan dx="1" dy="-13" font-size="31">″</tspan></text>
<line x1="909.0" y1="1002.6" x2="940.1" y2="1002.6" stroke="#f00" stroke-width="2.3"/>
<path d="M956.1 1002.6L938.1 1007.1L938.1 998.1Z" fill="#f00"/>
<circle cx="965.9" cy="1001.3" r="7.4" fill="#f00"/>
<text x="981.5" y="1020.9" font-size="40" fill="#f00" font-style="italic">λ<tspan dx="1" dy="-13" font-size="31">‴</tspan></text>
<line x1="971.2" y1="984.4" x2="959.0" y2="843.9" stroke="#f00" stroke-width="2.6"/>
<path d="M957.3 824.0L964.7 845.4L953.7 846.4Z" fill="#f00"/>
<text x="1039.6" y="922" font-size="40" fill="#000">λ</text>
<circle cx="1051" cy="944" r="7.4" fill="#000"/>
<line x1="1051.0" y1="944.0" x2="1087.2" y2="976.8" stroke="#000" stroke-width="2.3"/>
<path d="M1099.0 987.6L1082.7 978.8L1088.7 972.2Z" fill="#000"/>
<circle cx="1051" cy="1011.2" r="7.4" fill="#00f"/>
<line x1="1051.0" y1="1011.2" x2="1085.4" y2="995.2" stroke="#00f" stroke-width="2.3"/>
<path d="M1099.9 988.4L1085.5 1000.1L1081.7 991.9Z" fill="#00f"/>
<line x1="1099.0" y1="983.5" x2="1125.4" y2="960.0" stroke="#f00" stroke-width="2.3"/>
<path d="M1137.3 949.3L1126.9 964.6L1120.9 957.9Z" fill="#f00"/>
<circle cx="1141.4" cy="944.4" r="7.4" fill="#f00"/>
<line x1="1100.7" y1="992.5" x2="1143.0" y2="1016.3" stroke="#f00" stroke-width="2.3"/>
<path d="M1156.9 1024.2L1139.0 1019.3L1143.4 1011.4Z" fill="#f00"/>
<circle cx="1163.4" cy="1027.5" r="7.4" fill="#f00"/>
<text x="1141.5" y="930.5" font-size="40" fill="#f00" font-style="italic">λ<tspan dx="1" dy="-13" font-size="31">″</tspan></text>
<text x="1045.5" y="1060.9" font-size="40" fill="#00f" font-style="italic">λ<tspan dx="1" dy="-13" font-size="31">′</tspan></text>
<text x="1123.5" y="1062.5" font-size="40" fill="#f00" font-style="italic">λ<tspan dx="1" dy="-13" font-size="31">‴</tspan></text>
<line x1="1095.8" y1="961.5" x2="1045.0" y2="790.5" stroke="#000099" stroke-width="2.6"/>
<path d="M1039.3 771.3L1050.8 790.8L1040.3 794.0Z" fill="#000099"/>
<text x="292" y="74" font-size="40.5" textLength="135.5" lengthAdjust="spacingAndGlyphs">Na<tspan dy="10" font-size="27">2</tspan><tspan dy="-10">TlSb</tspan></text>
<text x="452.3" y="162" font-size="41" textLength="189" lengthAdjust="spacingAndGlyphs" fill="#800080">SCP, 100 K</text>
<text x="452.3" y="211" font-size="41" textLength="189" lengthAdjust="spacingAndGlyphs" fill="#FF8000">SCP, 300 K</text>
<text x="384.5" y="655.7" font-size="40.5" textLength="230" lengthAdjust="spacingAndGlyphs">Na<tspan dy="10" font-size="27">2</tspan><tspan dy="-10">TlSb,300K</tspan></text>
<text x="1082" y="665.2" font-size="40.5" textLength="230" lengthAdjust="spacingAndGlyphs">Na<tspan dy="10" font-size="27">2</tspan><tspan dy="-10">TlSb,300K</tspan></text>
<path d="M133.80 485.60v-15M133.80 15.60v15M229.87 485.60v-15M229.87 15.60v15M325.95 485.60v-15M325.95 15.60v15M422.02 485.60v-15M422.02 15.60v15M518.09 485.60v-15M518.09 15.60v15M614.16 485.60v-15M614.16 15.60v15M153.01 485.60v-7.5M153.01 15.60v7.5M172.23 485.60v-7.5M172.23 15.60v7.5M191.44 485.60v-7.5M191.44 15.60v7.5M210.66 485.60v-7.5M210.66 15.60v7.5M249.09 485.60v-7.5M249.09 15.60v7.5M268.30 485.60v-7.5M268.30 15.60v7.5M287.52 485.60v-7.5M287.52 15.60v7.5M306.73 485.60v-7.5M306.73 15.60v7.5M345.16 485.60v-7.5M345.16 15.60v7.5M364.37 485.60v-7.5M364.37 15.60v7.5M383.59 485.60v-7.5M383.59 15.60v7.5M402.80 485.60v-7.5M402.80 15.60v7.5M441.23 485.60v-7.5M441.23 15.60v7.5M460.45 485.60v-7.5M460.45 15.60v7.5M479.66 485.60v-7.5M479.66 15.60v7.5M498.88 485.60v-7.5M498.88 15.60v7.5M537.31 485.60v-7.5M537.31 15.60v7.5M556.52 485.60v-7.5M556.52 15.60v7.5M575.73 485.60v-7.5M575.73 15.60v7.5M594.95 485.60v-7.5M594.95 15.60v7.5M633.38 485.60v-7.5M633.38 15.60v7.5M652.59 485.60v-7.5M652.59 15.60v7.5M133.80 485.60h15M662.20 485.60h-15M133.80 368.10h15M662.20 368.10h-15M133.80 250.60h15M662.20 250.60h-15M133.80 133.10h15M662.20 133.10h-15M133.80 15.60h15M662.20 15.60h-15M133.80 456.23h7.5M662.20 456.23h-7.5M133.80 426.85h7.5M662.20 426.85h-7.5M133.80 397.48h7.5M662.20 397.48h-7.5M133.80 338.73h7.5M662.20 338.73h-7.5M133.80 309.35h7.5M662.20 309.35h-7.5M133.80 279.98h7.5M662.20 279.98h-7.5M133.80 221.23h7.5M662.20 221.23h-7.5M133.80 191.85h7.5M662.20 191.85h-7.5M133.80 162.48h7.5M662.20 162.48h-7.5M133.80 103.73h7.5M662.20 103.73h-7.5M133.80 74.35h7.5M662.20 74.35h-7.5M133.80 44.98h7.5M662.20 44.98h-7.5" stroke="#000" stroke-width="1.7" fill="none"/>
<rect x="133.80" y="15.60" width="528.40" height="470.00" stroke="#000" stroke-width="1.7" fill="none"/>
<text x="133.8" y="534.2" font-size="42.5" text-anchor="middle" >0</text>
<text x="229.9" y="534.2" font-size="42.5" text-anchor="middle" >40</text>
<text x="325.9" y="534.2" font-size="42.5" text-anchor="middle" >80</text>
<text x="422.0" y="534.2" font-size="42.5" text-anchor="middle" >120</text>
<text x="518.1" y="534.2" font-size="42.5" text-anchor="middle" >160</text>
<text x="614.2" y="534.2" font-size="42.5" text-anchor="middle" >200</text>
<text x="117.3" y="498.1" font-size="42.5" text-anchor="end" >0</text>
<text x="117.3" y="380.6" font-size="42.5" text-anchor="end" >1</text>
<text x="117.3" y="263.1" font-size="42.5" text-anchor="end" >2</text>
<text x="117.3" y="145.6" font-size="42.5" text-anchor="end" >3</text>
<text x="117.3" y="28.1" font-size="42.5" text-anchor="end" >4</text>
<path d="M825.71 473.70v-15M825.71 4.40v15M908.27 473.70v-15M908.27 4.40v15M990.84 473.70v-15M990.84 4.40v15M1073.40 473.70v-15M1073.40 4.40v15M1155.96 473.70v-15M1155.96 4.40v15M1238.52 473.70v-15M1238.52 4.40v15M1321.09 473.70v-15M1321.09 4.40v15M866.99 473.70v-7.5M866.99 4.40v7.5M949.56 473.70v-7.5M949.56 4.40v7.5M1032.12 473.70v-7.5M1032.12 4.40v7.5M1114.68 473.70v-7.5M1114.68 4.40v7.5M1197.24 473.70v-7.5M1197.24 4.40v7.5M1279.81 473.70v-7.5M1279.81 4.40v7.5M809.20 395.48h15M1337.60 395.48h-15M809.20 239.05h15M1337.60 239.05h-15M809.20 82.62h15M1337.60 82.62h-15M809.20 458.06h7.5M1337.60 458.06h-7.5M809.20 426.77h7.5M1337.60 426.77h-7.5M809.20 364.20h7.5M1337.60 364.20h-7.5M809.20 332.91h7.5M1337.60 332.91h-7.5M809.20 301.62h7.5M1337.60 301.62h-7.5M809.20 270.34h7.5M1337.60 270.34h-7.5M809.20 207.76h7.5M1337.60 207.76h-7.5M809.20 176.48h7.5M1337.60 176.48h-7.5M809.20 145.19h7.5M1337.60 145.19h-7.5M809.20 113.90h7.5M1337.60 113.90h-7.5M809.20 51.33h7.5M1337.60 51.33h-7.5M809.20 20.04h7.5M1337.60 20.04h-7.5" stroke="#000" stroke-width="1.7" fill="none"/>
<rect x="809.20" y="4.40" width="528.40" height="469.30" stroke="#000" stroke-width="1.7" fill="none"/>
<text x="825.7" y="522.0" font-size="42.5" text-anchor="middle" >100</text>
<text x="908.3" y="522.0" font-size="42.5" text-anchor="middle" >200</text>
<text x="990.8" y="522.0" font-size="42.5" text-anchor="middle" >300</text>
<text x="1073.4" y="522.0" font-size="42.5" text-anchor="middle" >400</text>
<text x="1156.0" y="522.0" font-size="42.5" text-anchor="middle" >500</text>
<text x="1238.5" y="522.0" font-size="42.5" text-anchor="middle" >600</text>
<text x="1321.1" y="522.0" font-size="42.5" text-anchor="middle" >700</text>
<text x="792.7" y="408.0" font-size="42.5" text-anchor="end" >8</text>
<text x="792.7" y="251.5" font-size="42.5" text-anchor="end" >9</text>
<text x="792.7" y="95.1" font-size="42.5" text-anchor="end" >10</text>
<path d="M133.80 1073.40v-15M133.80 603.50v15M229.87 1073.40v-15M229.87 603.50v15M325.95 1073.40v-15M325.95 603.50v15M422.02 1073.40v-15M422.02 603.50v15M518.09 1073.40v-15M518.09 603.50v15M614.16 1073.40v-15M614.16 603.50v15M153.01 1073.40v-7.5M153.01 603.50v7.5M172.23 1073.40v-7.5M172.23 603.50v7.5M191.44 1073.40v-7.5M191.44 603.50v7.5M210.66 1073.40v-7.5M210.66 603.50v7.5M249.09 1073.40v-7.5M249.09 603.50v7.5M268.30 1073.40v-7.5M268.30 603.50v7.5M287.52 1073.40v-7.5M287.52 603.50v7.5M306.73 1073.40v-7.5M306.73 603.50v7.5M345.16 1073.40v-7.5M345.16 603.50v7.5M364.37 1073.40v-7.5M364.37 603.50v7.5M383.59 1073.40v-7.5M383.59 603.50v7.5M402.80 1073.40v-7.5M402.80 603.50v7.5M441.23 1073.40v-7.5M441.23 603.50v7.5M460.45 1073.40v-7.5M460.45 603.50v7.5M479.66 1073.40v-7.5M479.66 603.50v7.5M498.88 1073.40v-7.5M498.88 603.50v7.5M537.31 1073.40v-7.5M537.31 603.50v7.5M556.52 1073.40v-7.5M556.52 603.50v7.5M575.73 1073.40v-7.5M575.73 603.50v7.5M594.95 1073.40v-7.5M594.95 603.50v7.5M633.38 1073.40v-7.5M633.38 603.50v7.5M652.59 1073.40v-7.5M652.59 603.50v7.5M133.80 1073.40h15M662.20 1073.40h-15M133.80 1019.38h15M662.20 1019.38h-15M133.80 965.36h15M662.20 965.36h-15M133.80 911.35h15M662.20 911.35h-15M133.80 857.33h15M662.20 857.33h-15M133.80 803.31h15M662.20 803.31h-15M133.80 749.29h15M662.20 749.29h-15M133.80 695.27h15M662.20 695.27h-15M133.80 641.26h15M662.20 641.26h-15M133.80 1057.14h7.5M662.20 1057.14h-7.5M133.80 1047.63h7.5M662.20 1047.63h-7.5M133.80 1040.88h7.5M662.20 1040.88h-7.5M133.80 1035.64h7.5M662.20 1035.64h-7.5M133.80 1031.37h7.5M662.20 1031.37h-7.5M133.80 1027.75h7.5M662.20 1027.75h-7.5M133.80 1024.62h7.5M662.20 1024.62h-7.5M133.80 1021.85h7.5M662.20 1021.85h-7.5M133.80 1003.12h7.5M662.20 1003.12h-7.5M133.80 993.61h7.5M662.20 993.61h-7.5M133.80 986.86h7.5M662.20 986.86h-7.5M133.80 981.63h7.5M662.20 981.63h-7.5M133.80 977.35h7.5M662.20 977.35h-7.5M133.80 973.73h7.5M662.20 973.73h-7.5M133.80 970.60h7.5M662.20 970.60h-7.5M133.80 967.84h7.5M662.20 967.84h-7.5M133.80 949.10h7.5M662.20 949.10h-7.5M133.80 939.59h7.5M662.20 939.59h-7.5M133.80 932.84h7.5M662.20 932.84h-7.5M133.80 927.61h7.5M662.20 927.61h-7.5M133.80 923.33h7.5M662.20 923.33h-7.5M133.80 919.71h7.5M662.20 919.71h-7.5M133.80 916.58h7.5M662.20 916.58h-7.5M133.80 913.82h7.5M662.20 913.82h-7.5M133.80 895.09h7.5M662.20 895.09h-7.5M133.80 885.57h7.5M662.20 885.57h-7.5M133.80 878.82h7.5M662.20 878.82h-7.5M133.80 873.59h7.5M662.20 873.59h-7.5M133.80 869.31h7.5M662.20 869.31h-7.5M133.80 865.70h7.5M662.20 865.70h-7.5M133.80 862.56h7.5M662.20 862.56h-7.5M133.80 859.80h7.5M662.20 859.80h-7.5M133.80 841.07h7.5M662.20 841.07h-7.5M133.80 831.56h7.5M662.20 831.56h-7.5M133.80 824.81h7.5M662.20 824.81h-7.5M133.80 819.57h7.5M662.20 819.57h-7.5M133.80 815.29h7.5M662.20 815.29h-7.5M133.80 811.68h7.5M662.20 811.68h-7.5M133.80 808.55h7.5M662.20 808.55h-7.5M133.80 805.78h7.5M662.20 805.78h-7.5M133.80 787.05h7.5M662.20 787.05h-7.5M133.80 777.54h7.5M662.20 777.54h-7.5M133.80 770.79h7.5M662.20 770.79h-7.5M133.80 765.55h7.5M662.20 765.55h-7.5M133.80 761.28h7.5M662.20 761.28h-7.5M133.80 757.66h7.5M662.20 757.66h-7.5M133.80 754.53h7.5M662.20 754.53h-7.5M133.80 751.76h7.5M662.20 751.76h-7.5M133.80 733.03h7.5M662.20 733.03h-7.5M133.80 723.52h7.5M662.20 723.52h-7.5M133.80 716.77h7.5M662.20 716.77h-7.5M133.80 711.54h7.5M662.20 711.54h-7.5M133.80 707.26h7.5M662.20 707.26h-7.5M133.80 703.64h7.5M662.20 703.64h-7.5M133.80 700.51h7.5M662.20 700.51h-7.5M133.80 697.75h7.5M662.20 697.75h-7.5M133.80 679.01h7.5M662.20 679.01h-7.5M133.80 669.50h7.5M662.20 669.50h-7.5M133.80 662.75h7.5M662.20 662.75h-7.5M133.80 657.52h7.5M662.20 657.52h-7.5M133.80 653.24h7.5M662.20 653.24h-7.5M133.80 649.62h7.5M662.20 649.62h-7.5M133.80 646.49h7.5M662.20 646.49h-7.5M133.80 643.73h7.5M662.20 643.73h-7.5M133.80 625.00h7.5M662.20 625.00h-7.5M133.80 615.48h7.5M662.20 615.48h-7.5M133.80 608.73h7.5M662.20 608.73h-7.5M133.80 603.50h7.5M662.20 603.50h-7.5" stroke="#000" stroke-width="1.7" fill="none"/>
<rect x="133.80" y="603.50" width="528.40" height="469.90" stroke="#000" stroke-width="1.7" fill="none"/>
<text x="133.8" y="1121.0" font-size="42.5" text-anchor="middle" >0</text>
<text x="229.9" y="1121.0" font-size="42.5" text-anchor="middle" >40</text>
<text x="325.9" y="1121.0" font-size="42.5" text-anchor="middle" >80</text>
<text x="422.0" y="1121.0" font-size="42.5" text-anchor="middle" >120</text>
<text x="518.1" y="1121.0" font-size="42.5" text-anchor="middle" >160</text>
<text x="614.2" y="1121.0" font-size="42.5" text-anchor="middle" >200</text>
<text x="117.8" y="1088.4" font-size="42.5" text-anchor="end">10<tspan dy="-18.5" font-size="27">-6</tspan></text>
<text x="117.8" y="1034.4" font-size="42.5" text-anchor="end">10<tspan dy="-18.5" font-size="27">-5</tspan></text>
<text x="117.8" y="980.4" font-size="42.5" text-anchor="end">10<tspan dy="-18.5" font-size="27">-4</tspan></text>
<text x="117.8" y="926.3" font-size="42.5" text-anchor="end">10<tspan dy="-18.5" font-size="27">-3</tspan></text>
<text x="117.8" y="872.3" font-size="42.5" text-anchor="end">10<tspan dy="-18.5" font-size="27">-2</tspan></text>
<text x="117.8" y="818.3" font-size="42.5" text-anchor="end">10<tspan dy="-18.5" font-size="27">-1</tspan></text>
<text x="117.8" y="764.3" font-size="42.5" text-anchor="end">10<tspan dy="-18.5" font-size="27">0</tspan></text>
<text x="117.8" y="710.3" font-size="42.5" text-anchor="end">10<tspan dy="-18.5" font-size="27">1</tspan></text>
<text x="117.8" y="656.3" font-size="42.5" text-anchor="end">10<tspan dy="-18.5" font-size="27">2</tspan></text>
<path d="M809.00 1073.40v-15M809.00 603.50v15M905.11 1073.40v-15M905.11 603.50v15M1001.22 1073.40v-15M1001.22 603.50v15M1097.33 1073.40v-15M1097.33 603.50v15M1193.44 1073.40v-15M1193.44 603.50v15M1289.55 1073.40v-15M1289.55 603.50v15M828.22 1073.40v-7.5M828.22 603.50v7.5M847.44 1073.40v-7.5M847.44 603.50v7.5M866.67 1073.40v-7.5M866.67 603.50v7.5M885.89 1073.40v-7.5M885.89 603.50v7.5M924.33 1073.40v-7.5M924.33 603.50v7.5M943.55 1073.40v-7.5M943.55 603.50v7.5M962.77 1073.40v-7.5M962.77 603.50v7.5M982.00 1073.40v-7.5M982.00 603.50v7.5M1020.44 1073.40v-7.5M1020.44 603.50v7.5M1039.66 1073.40v-7.5M1039.66 603.50v7.5M1058.88 1073.40v-7.5M1058.88 603.50v7.5M1078.11 1073.40v-7.5M1078.11 603.50v7.5M1116.55 1073.40v-7.5M1116.55 603.50v7.5M1135.77 1073.40v-7.5M1135.77 603.50v7.5M1154.99 1073.40v-7.5M1154.99 603.50v7.5M1174.21 1073.40v-7.5M1174.21 603.50v7.5M1212.66 1073.40v-7.5M1212.66 603.50v7.5M1231.88 1073.40v-7.5M1231.88 603.50v7.5M1251.10 1073.40v-7.5M1251.10 603.50v7.5M1270.32 1073.40v-7.5M1270.32 603.50v7.5M1308.77 1073.40v-7.5M1308.77 603.50v7.5M1327.99 1073.40v-7.5M1327.99 603.50v7.5M809.00 1073.40h15M1337.60 1073.40h-15M809.00 1024.95h15M1337.60 1024.95h-15M809.00 976.50h15M1337.60 976.50h-15M809.00 928.05h15M1337.60 928.05h-15M809.00 879.61h15M1337.60 879.61h-15M809.00 831.16h15M1337.60 831.16h-15M809.00 782.71h15M1337.60 782.71h-15M809.00 734.26h15M1337.60 734.26h-15M809.00 685.81h15M1337.60 685.81h-15M809.00 637.36h15M1337.60 637.36h-15M809.00 1058.82h7.5M1337.60 1058.82h-7.5M809.00 1050.28h7.5M1337.60 1050.28h-7.5M809.00 1044.23h7.5M1337.60 1044.23h-7.5M809.00 1039.54h7.5M1337.60 1039.54h-7.5M809.00 1035.70h7.5M1337.60 1035.70h-7.5M809.00 1032.46h7.5M1337.60 1032.46h-7.5M809.00 1029.65h7.5M1337.60 1029.65h-7.5M809.00 1027.17h7.5M1337.60 1027.17h-7.5M809.00 1010.37h7.5M1337.60 1010.37h-7.5M809.00 1001.84h7.5M1337.60 1001.84h-7.5M809.00 995.78h7.5M1337.60 995.78h-7.5M809.00 991.09h7.5M1337.60 991.09h-7.5M809.00 987.25h7.5M1337.60 987.25h-7.5M809.00 984.01h7.5M1337.60 984.01h-7.5M809.00 981.20h7.5M1337.60 981.20h-7.5M809.00 978.72h7.5M1337.60 978.72h-7.5M809.00 961.92h7.5M1337.60 961.92h-7.5M809.00 953.39h7.5M1337.60 953.39h-7.5M809.00 947.33h7.5M1337.60 947.33h-7.5M809.00 942.64h7.5M1337.60 942.64h-7.5M809.00 938.80h7.5M1337.60 938.80h-7.5M809.00 935.56h7.5M1337.60 935.56h-7.5M809.00 932.75h7.5M1337.60 932.75h-7.5M809.00 930.27h7.5M1337.60 930.27h-7.5M809.00 913.47h7.5M1337.60 913.47h-7.5M809.00 904.94h7.5M1337.60 904.94h-7.5M809.00 898.89h7.5M1337.60 898.89h-7.5M809.00 894.19h7.5M1337.60 894.19h-7.5M809.00 890.35h7.5M1337.60 890.35h-7.5M809.00 887.11h7.5M1337.60 887.11h-7.5M809.00 884.30h7.5M1337.60 884.30h-7.5M809.00 881.82h7.5M1337.60 881.82h-7.5M809.00 865.02h7.5M1337.60 865.02h-7.5M809.00 856.49h7.5M1337.60 856.49h-7.5M809.00 850.44h7.5M1337.60 850.44h-7.5M809.00 845.74h7.5M1337.60 845.74h-7.5M809.00 841.91h7.5M1337.60 841.91h-7.5M809.00 838.66h7.5M1337.60 838.66h-7.5M809.00 835.85h7.5M1337.60 835.85h-7.5M809.00 833.37h7.5M1337.60 833.37h-7.5M809.00 816.57h7.5M1337.60 816.57h-7.5M809.00 808.04h7.5M1337.60 808.04h-7.5M809.00 801.99h7.5M1337.60 801.99h-7.5M809.00 797.29h7.5M1337.60 797.29h-7.5M809.00 793.46h7.5M1337.60 793.46h-7.5M809.00 790.21h7.5M1337.60 790.21h-7.5M809.00 787.40h7.5M1337.60 787.40h-7.5M809.00 784.93h7.5M1337.60 784.93h-7.5M809.00 768.12h7.5M1337.60 768.12h-7.5M809.00 759.59h7.5M1337.60 759.59h-7.5M809.00 753.54h7.5M1337.60 753.54h-7.5M809.00 748.85h7.5M1337.60 748.85h-7.5M809.00 745.01h7.5M1337.60 745.01h-7.5M809.00 741.77h7.5M1337.60 741.77h-7.5M809.00 738.96h7.5M1337.60 738.96h-7.5M809.00 736.48h7.5M1337.60 736.48h-7.5M809.00 719.68h7.5M1337.60 719.68h-7.5M809.00 711.15h7.5M1337.60 711.15h-7.5M809.00 705.09h7.5M1337.60 705.09h-7.5M809.00 700.40h7.5M1337.60 700.40h-7.5M809.00 696.56h7.5M1337.60 696.56h-7.5M809.00 693.32h7.5M1337.60 693.32h-7.5M809.00 690.51h7.5M1337.60 690.51h-7.5M809.00 688.03h7.5M1337.60 688.03h-7.5M809.00 671.23h7.5M1337.60 671.23h-7.5M809.00 662.70h7.5M1337.60 662.70h-7.5M809.00 656.64h7.5M1337.60 656.64h-7.5M809.00 651.95h7.5M1337.60 651.95h-7.5M809.00 648.11h7.5M1337.60 648.11h-7.5M809.00 644.87h7.5M1337.60 644.87h-7.5M809.00 642.06h7.5M1337.60 642.06h-7.5M809.00 639.58h7.5M1337.60 639.58h-7.5M809.00 622.78h7.5M1337.60 622.78h-7.5M809.00 614.25h7.5M1337.60 614.25h-7.5M809.00 608.20h7.5M1337.60 608.20h-7.5M809.00 603.50h7.5M1337.60 603.50h-7.5" stroke="#000" stroke-width="1.7" fill="none"/>
<rect x="809.00" y="603.50" width="528.60" height="469.90" stroke="#000" stroke-width="1.7" fill="none"/>
<text x="809.0" y="1121.0" font-size="42.5" text-anchor="middle" >0</text>
<text x="905.1" y="1121.0" font-size="42.5" text-anchor="middle" >40</text>
<text x="1001.2" y="1121.0" font-size="42.5" text-anchor="middle" >80</text>
<text x="1097.3" y="1121.0" font-size="42.5" text-anchor="middle" >120</text>
<text x="1193.4" y="1121.0" font-size="42.5" text-anchor="middle" >160</text>
<text x="1289.5" y="1121.0" font-size="42.5" text-anchor="middle" >200</text>
<text x="793.0" y="1088.4" font-size="42.5" text-anchor="end">10<tspan dy="-18.5" font-size="27">-7</tspan></text>
<text x="793.0" y="1040.0" font-size="42.5" text-anchor="end">10<tspan dy="-18.5" font-size="27">-6</tspan></text>
<text x="793.0" y="991.5" font-size="42.5" text-anchor="end">10<tspan dy="-18.5" font-size="27">-5</tspan></text>
<text x="793.0" y="943.1" font-size="42.5" text-anchor="end">10<tspan dy="-18.5" font-size="27">-4</tspan></text>
<text x="793.0" y="894.6" font-size="42.5" text-anchor="end">10<tspan dy="-18.5" font-size="27">-3</tspan></text>
<text x="793.0" y="846.2" font-size="42.5" text-anchor="end">10<tspan dy="-18.5" font-size="27">-2</tspan></text>
<text x="793.0" y="797.7" font-size="42.5" text-anchor="end">10<tspan dy="-18.5" font-size="27">-1</tspan></text>
<text x="793.0" y="749.3" font-size="42.5" text-anchor="end">10<tspan dy="-18.5" font-size="27">0</tspan></text>
<text x="793.0" y="700.8" font-size="42.5" text-anchor="end">10<tspan dy="-18.5" font-size="27">1</tspan></text>
<text x="793.0" y="652.4" font-size="42.5" text-anchor="end">10<tspan dy="-18.5" font-size="27">2</tspan></text>
<text x="398" y="579" font-size="41.5" text-anchor="middle">Frequency (cm<tspan dy="-16" font-size="26">-1</tspan><tspan dy="16">)</tspan></text>
<text x="398" y="1177" font-size="41.5" text-anchor="middle">Frequency (cm<tspan dy="-16" font-size="26">-1</tspan><tspan dy="16">)</tspan></text>
<text x="1073.2" y="1177" font-size="41.5" text-anchor="middle">Frequency (cm<tspan dy="-16" font-size="26">-1</tspan><tspan dy="16">)</tspan></text>
<text x="1069.4" y="581" font-size="41.5" text-anchor="middle" textLength="271" lengthAdjust="spacingAndGlyphs">Temperature (K)</text>
<text transform="translate(79.7 248.3) rotate(-90)" font-size="41" text-anchor="middle" textLength="179.5" lengthAdjust="spacingAndGlyphs"><tspan font-style="italic">υ</tspan><tspan dy="-12.5" font-size="26">ph</tspan><tspan dy="12.5"> (kms</tspan><tspan dy="-16" font-size="26">-1</tspan><tspan dy="16">)</tspan></text>
<text transform="translate(727 243.4) rotate(-90)" font-size="42" text-anchor="middle" textLength="297.5" lengthAdjust="spacingAndGlyphs"><tspan font-style="italic">C</tspan><tspan dy="8" font-size="26">v</tspan><tspan dy="-8"> (meVnm</tspan><tspan dy="-16" font-size="26">-3</tspan><tspan dy="16">K</tspan><tspan dy="-16" font-size="26">-1</tspan><tspan dy="16">)</tspan></text>
<text transform="translate(36.4 827.6) rotate(-90)" font-size="42" text-anchor="middle">SRs (ps<tspan dy="-16" font-size="26">-1</tspan><tspan dy="16">)</tspan></text>
<text transform="translate(711.6 827.6) rotate(-90)" font-size="42" text-anchor="middle">SRs (ps<tspan dy="-16" font-size="26">-1</tspan><tspan dy="16">)</tspan></text>
<text x="40" y="56.3" font-size="40" font-weight="bold">a</text>
<text x="695" y="56.3" font-size="40" font-weight="bold">b</text>
<text x="21" y="632.5" font-size="40" font-weight="bold">c</text>
<text x="678" y="632.5" font-size="40" font-weight="bold">d</text>
</svg></body></html>
